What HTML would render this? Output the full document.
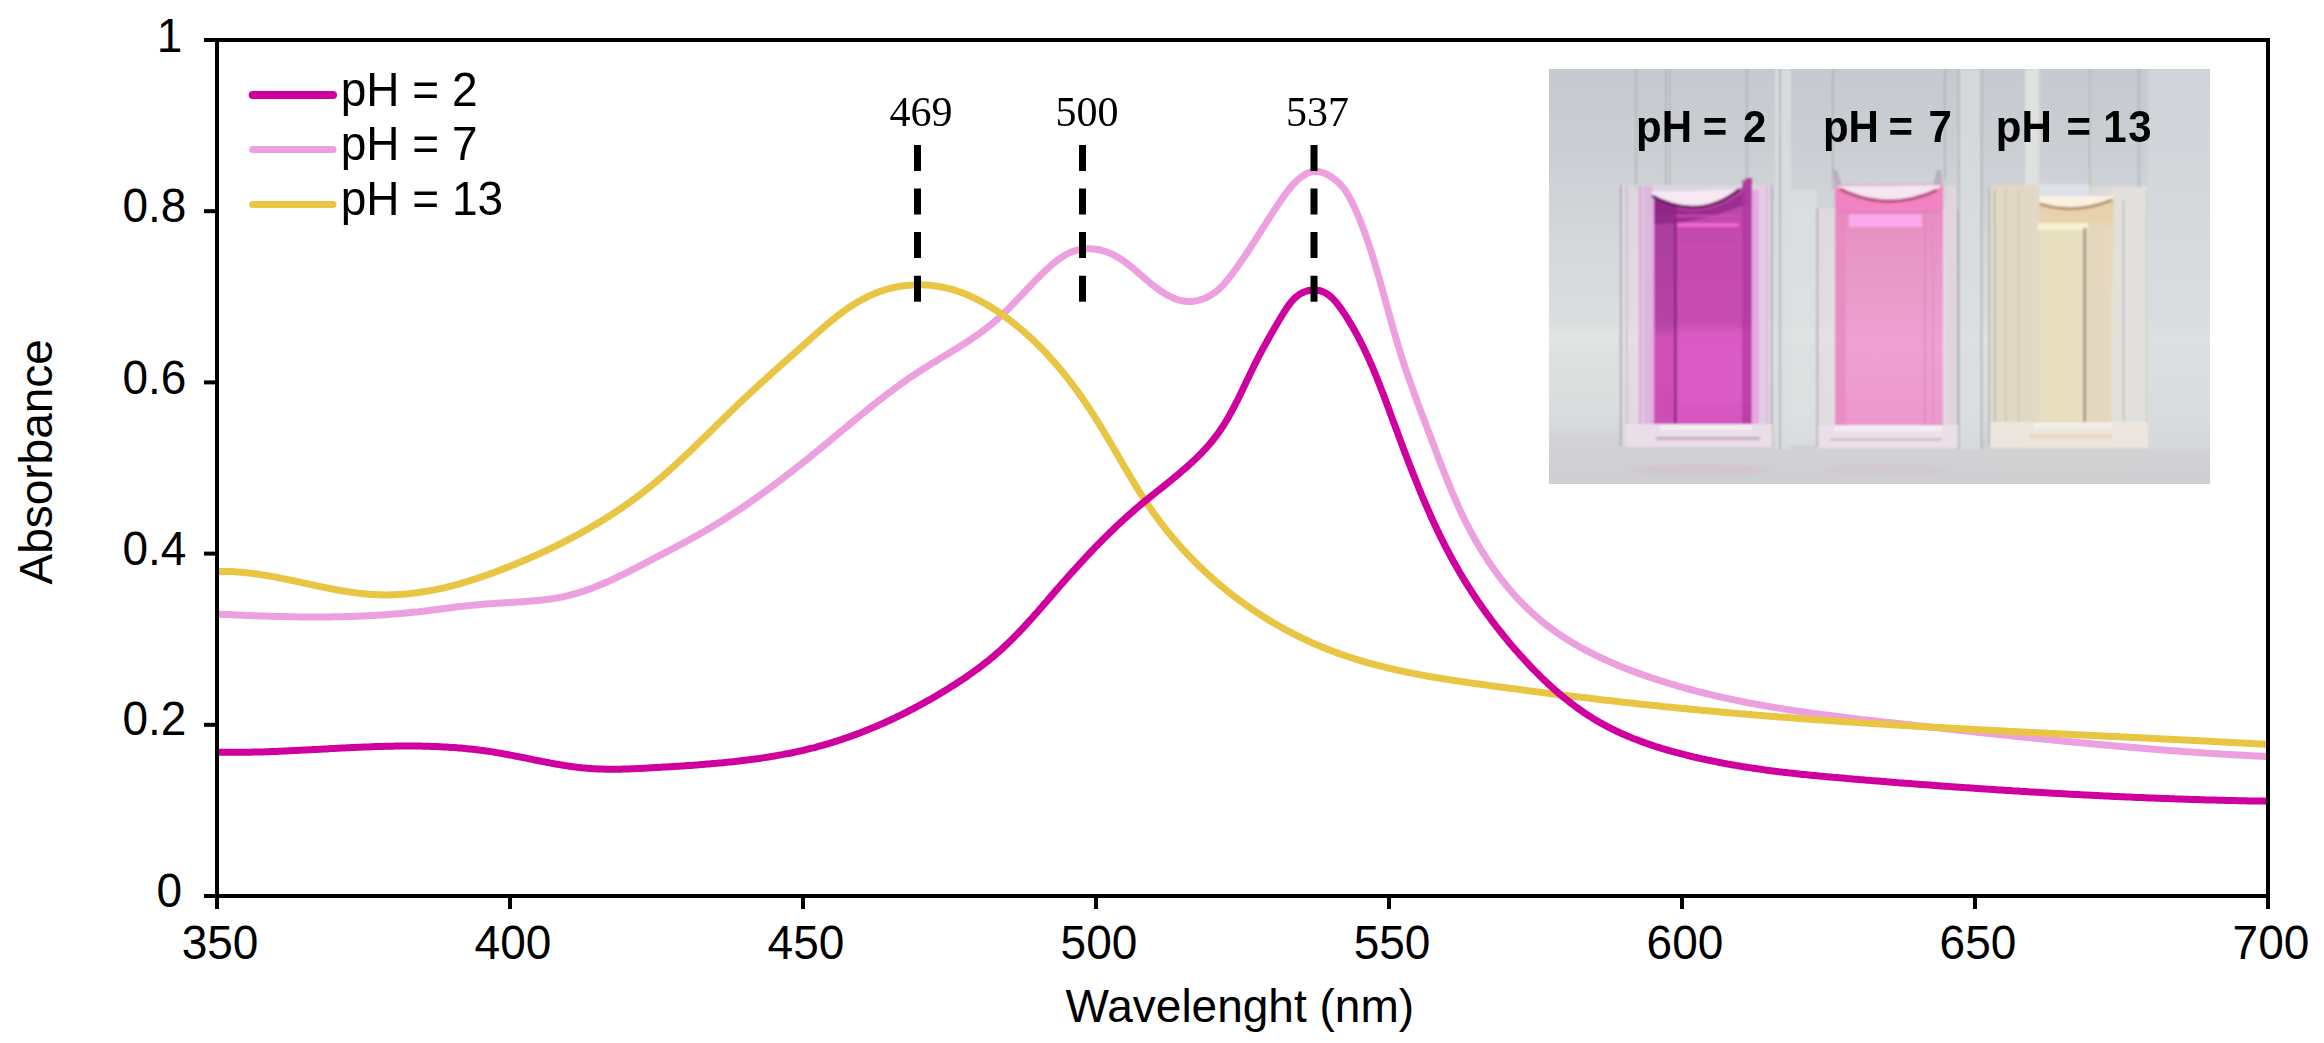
<!DOCTYPE html>
<html><head><meta charset="utf-8"><title>Absorbance spectra</title>
<style>html,body{margin:0;padding:0;background:#fff;}svg{display:block;}</style>
</head><body>
<svg width="2324" height="1043" viewBox="0 0 2324 1043">
<rect width="2324" height="1043" fill="#fff"/>
<g id="photo">
<defs>
<clipPath id="pclip"><rect x="1549" y="69" width="661" height="415"/></clipPath>
<filter id="soft" x="-2%" y="-2%" width="104%" height="104%"><feGaussianBlur stdDeviation="1.2"/></filter>
<linearGradient id="bg" x1="0" y1="69" x2="0" y2="484" gradientUnits="userSpaceOnUse">
<stop offset="0" stop-color="#C6CAD0"/>
<stop offset="0.2" stop-color="#CBCFD4"/>
<stop offset="0.44" stop-color="#D5D9DB"/>
<stop offset="0.61" stop-color="#DADEDF"/>
<stop offset="0.645" stop-color="#E1E5E4"/>
<stop offset="0.68" stop-color="#DDE1E0"/>
<stop offset="0.84" stop-color="#D9DCDC"/>
<stop offset="0.9" stop-color="#D2D2D5"/>
<stop offset="1" stop-color="#CFCED1"/>
</linearGradient>
<linearGradient id="liq1" x1="0" y1="200" x2="0" y2="424" gradientUnits="userSpaceOnUse">
<stop offset="0" stop-color="#B844A6"/>
<stop offset="0.12" stop-color="#C44AAE"/>
<stop offset="0.55" stop-color="#C84EB2"/>
<stop offset="0.6" stop-color="#DA5AC4"/>
<stop offset="0.85" stop-color="#DC5CC6"/>
<stop offset="1" stop-color="#D456BE"/>
</linearGradient>
<linearGradient id="liq1l" x1="0" y1="205" x2="0" y2="424" gradientUnits="userSpaceOnUse">
<stop offset="0" stop-color="#962C8E"/>
<stop offset="0.1" stop-color="#AC3E9E"/>
<stop offset="0.55" stop-color="#B844A8"/>
<stop offset="0.6" stop-color="#CE50B8"/>
<stop offset="1" stop-color="#CC4EB6"/>
</linearGradient>
<linearGradient id="liq2" x1="0" y1="200" x2="0" y2="425" gradientUnits="userSpaceOnUse">
<stop offset="0" stop-color="#E88AC2"/>
<stop offset="0.3" stop-color="#E898C6"/>
<stop offset="0.65" stop-color="#F0A0D2"/>
<stop offset="1" stop-color="#EC98CC"/>
</linearGradient>
<linearGradient id="liq3" x1="0" y1="205" x2="0" y2="422" gradientUnits="userSpaceOnUse">
<stop offset="0" stop-color="#E0CFAF"/>
<stop offset="0.12" stop-color="#E5D9BE"/>
<stop offset="0.7" stop-color="#E9E0C6"/>
<stop offset="1" stop-color="#E8DFC6"/>
</linearGradient>
</defs>
<g clip-path="url(#pclip)">
<rect x="1549" y="69" width="661" height="415" fill="url(#bg)"/>
<g filter="url(#soft)">
<!-- light columns between cuvettes -->
<rect x="1775" y="69" width="16" height="380" fill="#DADEDF" opacity="0.8"/>
<rect x="1791" y="190" width="26" height="255" fill="#DDE1E1" opacity="0.7"/>
<rect x="1959" y="69" width="22" height="380" fill="#DADEDF" opacity="0.7"/>
<rect x="2148" y="69" width="62" height="380" fill="#D9DDE0" opacity="0.55"/>
<rect x="2026" y="69" width="14" height="125" fill="#D8DADD" opacity="0.9"/>
<g fill="#A8ACB1" opacity="0.75">
<rect x="1635.5" y="69" width="1.6" height="120"/>
<rect x="1665" y="69" width="1.6" height="118"/>
<rect x="1669" y="69" width="1.2" height="118"/>
<rect x="1746" y="69" width="1.6" height="115"/>
<rect x="1779" y="69" width="2" height="380"/>
<rect x="1832" y="69" width="1.6" height="120"/>
<rect x="1944" y="69" width="1.6" height="112"/>
<rect x="1958" y="69" width="1.6" height="380"/>
<rect x="1980.5" y="69" width="2" height="380"/>
<rect x="2089" y="69" width="1.2" height="125"/>
<rect x="2138" y="69" width="1.6" height="135"/>
</g>

<!-- ===== cuvette 1 ===== -->
<rect x="1620" y="185" width="153" height="262" fill="#E8D8E8" opacity="0.55"/>
<rect x="1620" y="185" width="1.6" height="261" fill="#A8A4B0"/>
<rect x="1771" y="185" width="1.6" height="261" fill="#ACA6B2"/>
<rect x="1626" y="186" width="1.2" height="250" fill="#C0B4C2"/>
<rect x="1639" y="186" width="2.5" height="240" fill="#E49CD8"/>
<rect x="1643" y="186" width="10" height="240" fill="#DCB8DC"/>
<rect x="1652" y="200" width="9" height="224" fill="#E8A6E4"/>
<rect x="1752" y="190" width="7" height="234" fill="#E6A8E4"/>
<rect x="1759" y="186" width="11" height="240" fill="#E4CCE4"/>
<rect x="1766" y="186" width="1.2" height="250" fill="#C4B4C4"/>
<!-- liquid 1 -->
<path d="M1654,191 L1739,190 Q1744,186 1746,178 L1752,178 L1752,424 L1654,424 Z" fill="url(#liq1)"/>
<rect x="1655" y="200" width="21" height="224" fill="url(#liq1l)"/>
<rect x="1674" y="206" width="3" height="218" fill="#86207E" opacity="0.75"/>
<path d="M1654,199 Q1700,226 1746,190 L1746,204 Q1700,224 1654,224 Z" fill="#8E2686" opacity="0.75"/>
<rect x="1676" y="215" width="64" height="2" fill="#D84CB8" opacity="0.8"/>
<rect x="1677" y="223" width="62" height="4" fill="#F064D8"/>
<rect x="1742" y="180" width="9" height="244" fill="#AC389C" opacity="0.7"/>
<path d="M1652,191 L1740,189.5 L1739,188 Q1700,220 1652,195 Z" fill="#F6E8F4"/>
<path d="M1652,196 Q1700,222 1740,189" fill="none" stroke="#5E1050" stroke-width="3.5" opacity="0.75"/>
<!-- base 1 -->
<rect x="1626" y="424" width="146" height="23" fill="#EADEE8"/>
<rect x="1660" y="425" width="92" height="5" fill="#F4EEF4"/>
<rect x="1656" y="437" width="104" height="3" fill="#C8AEC4"/>
<ellipse cx="1700" cy="470" rx="70" ry="6" fill="#D2C2CE" opacity="0.7"/>

<!-- ===== cuvette 2 ===== -->
<rect x="1816" y="208" width="142" height="240" fill="#E6DCE2" opacity="0.6"/>
<rect x="1816.5" y="208" width="1.6" height="239" fill="#ACA8B0"/>
<rect x="1957" y="209" width="1.6" height="238" fill="#ACA8B0"/>
<rect x="1946" y="186" width="10" height="240" fill="#E2D4DC"/>
<path d="M1833,170 L1837,170 L1842,186 L1835,186 Z" fill="#A07890" opacity="0.4"/>
<path d="M1937,170 L1941,170 L1942,185 L1933,186 Z" fill="#A07890" opacity="0.4"/>
<!-- liquid 2 -->
<path d="M1835,185 L1943,184 L1943,425 L1835,425 Z" fill="url(#liq2)"/>
<rect x="1835" y="198" width="11" height="227" fill="#E888C2" opacity="0.8"/>
<path d="M1836,190 Q1888,214 1942,188 L1942,211 L1836,211 Z" fill="#F282C2"/>
<rect x="1840" y="211" width="98" height="1.6" fill="#E07CBC"/>
<rect x="1849" y="214.5" width="73" height="12.5" fill="#FAAAEC"/>
<rect x="1924" y="205" width="2" height="220" fill="#DC84BC" opacity="0.7"/>
<rect x="1932" y="205" width="2" height="220" fill="#E08ABE" opacity="0.6"/>
<path d="M1836,186 L1942,185 L1937,189 Q1888,212 1840,188 Z" fill="#F6E6F0"/>
<path d="M1840,189 Q1888,213 1937,190" fill="none" stroke="#B04878" stroke-width="3.5" opacity="0.85"/>
<!-- base 2 -->
<rect x="1818" y="425" width="140" height="23" fill="#EBDFE8"/>
<rect x="1834" y="426" width="108" height="5" fill="#F6EEF4"/>
<rect x="1830" y="438" width="112" height="3" fill="#D8C0D0"/>
<ellipse cx="1886" cy="470" rx="62" ry="6" fill="#D4C4D0" opacity="0.6"/>

<!-- ===== cuvette 3 ===== -->
<rect x="2025" y="69" width="13" height="116" fill="#E4E4E4" opacity="0.7"/>
<rect x="1988" y="186" width="160" height="262" fill="#E4E0D8" opacity="0.6"/>
<rect x="1988.5" y="186" width="1.6" height="260" fill="#B0AEAE"/>
<rect x="2145" y="190" width="1.6" height="256" fill="#B4B2B2"/>
<rect x="1992" y="185" width="47" height="237" fill="#E1D8C6"/>
<rect x="1994" y="190" width="1.4" height="232" fill="#BEB4A2"/>
<rect x="2005" y="190" width="1.4" height="232" fill="#CFC4AE"/>
<rect x="2018" y="190" width="1.4" height="232" fill="#CFC4AE"/>
<rect x="2111" y="188" width="35" height="234" fill="#E2E0DC"/>
<rect x="2123" y="200" width="1.3" height="230" fill="#B8B6B4"/>
<rect x="2039" y="184" width="50" height="12" fill="#DCE0E8"/>
<!-- liquid 3 -->
<path d="M2039,196 L2114,196 L2112,422 L2039,422 Z" fill="url(#liq3)"/>
<path d="M2040,204 Q2076,215 2112,200 L2112,222 L2040,222 Z" fill="#E8D2AE"/>
<rect x="2038" y="223" width="50" height="7" fill="#F6F2D0"/>
<rect x="2039" y="230" width="44.6" height="192" fill="#E8DEC0"/>
<rect x="2083.6" y="228" width="2.2" height="194" fill="#857565" opacity="0.85"/>
<rect x="2086" y="228" width="25" height="194" fill="#E6D8BE"/>
<path d="M2039,196 L2114,196 L2112,199 Q2076,214 2040,203 Z" fill="#FBF0E2"/>
<path d="M2040,204 Q2076,215 2112,200" fill="none" stroke="#A88860" stroke-width="3" opacity="0.8"/>
<!-- base 3 -->
<rect x="1990" y="422" width="158" height="26" fill="#ECE6DE"/>
<rect x="2034" y="423" width="78" height="5" fill="#F4F0E8"/>
<rect x="2030" y="434" width="82" height="5" fill="#E8D8C2"/>
<ellipse cx="2068" cy="468" rx="60" ry="6" fill="#D4D0CC" opacity="0.6"/>
</g>
</g>
<g font-family="Liberation Sans, Arial, sans-serif" font-weight="bold" font-size="42" fill="#000" transform="matrix(1,0,0,1.04,0,-5.68)">
<text y="142" x="1636">pH</text><text y="142" x="1702.7">=</text><text y="142" x="1743">2</text>
<text y="142" x="1822.9">pH</text><text y="142" x="1888.6">=</text><text y="142" x="1928.5">7</text>
<text y="142" x="1995.8">pH</text><text y="142" x="2066.6">=</text><text y="142" x="2103.2">1</text><text y="142" x="2128.2">3</text>
</g>
</g>

<g fill="none" stroke-linejoin="round" stroke-linecap="butt">
<path d="M217.0,614.1 L219.0,614.2 L221.0,614.3 L223.0,614.4 L225.0,614.5 L227.0,614.6 L229.0,614.6 L231.0,614.7 L233.0,614.8 L235.0,614.9 L237.0,615.0 L239.0,615.1 L241.0,615.2 L242.9,615.3 L244.9,615.3 L246.9,615.4 L248.9,615.5 L250.9,615.6 L252.9,615.7 L254.9,615.7 L256.9,615.8 L258.9,615.9 L260.9,615.9 L262.9,616.0 L264.9,616.1 L266.9,616.1 L268.9,616.2 L270.9,616.3 L272.9,616.3 L274.9,616.4 L276.9,616.4 L278.9,616.5 L280.9,616.5 L282.9,616.6 L285.0,616.6 L287.0,616.7 L289.0,616.7 L291.0,616.7 L293.0,616.8 L295.0,616.8 L297.0,616.8 L299.0,616.9 L301.0,616.9 L303.0,616.9 L305.0,616.9 L307.0,616.9 L309.0,617.0 L311.0,617.0 L313.0,617.0 L315.0,617.0 L317.0,617.0 L319.0,617.0 L321.0,617.0 L323.0,617.0 L325.0,616.9 L327.0,616.9 L329.0,616.9 L331.0,616.9 L333.0,616.8 L335.0,616.8 L337.0,616.8 L339.0,616.7 L341.0,616.7 L343.0,616.7 L345.0,616.6 L347.0,616.6 L349.0,616.5 L351.0,616.4 L353.0,616.4 L355.0,616.3 L357.0,616.2 L359.0,616.2 L361.0,616.1 L363.0,616.0 L365.0,615.9 L367.0,615.8 L369.0,615.7 L371.0,615.6 L373.0,615.5 L375.0,615.4 L377.0,615.3 L379.0,615.1 L381.0,615.0 L383.0,614.9 L385.0,614.7 L387.0,614.6 L388.9,614.5 L390.9,614.3 L392.9,614.1 L394.9,614.0 L396.9,613.8 L398.9,613.7 L400.9,613.5 L402.9,613.3 L404.8,613.1 L406.8,612.9 L408.8,612.7 L410.8,612.5 L412.8,612.3 L414.8,612.1 L416.7,611.9 L418.7,611.7 L420.7,611.4 L422.7,611.2 L424.7,611.0 L426.6,610.7 L428.6,610.5 L430.6,610.2 L432.6,610.0 L434.5,609.8 L436.5,609.5 L438.5,609.3 L440.5,609.0 L442.5,608.8 L444.4,608.5 L446.4,608.3 L448.4,608.0 L450.4,607.8 L452.4,607.5 L454.3,607.3 L456.3,607.1 L458.3,606.8 L460.3,606.6 L462.3,606.4 L464.3,606.1 L466.2,605.9 L468.2,605.7 L470.2,605.5 L472.2,605.3 L474.2,605.1 L476.2,604.9 L478.2,604.7 L480.2,604.5 L482.2,604.3 L484.2,604.2 L486.2,604.0 L488.2,603.8 L490.2,603.7 L492.2,603.6 L494.2,603.4 L496.2,603.3 L498.2,603.2 L500.2,603.0 L502.2,602.9 L504.3,602.8 L506.3,602.7 L508.3,602.6 L510.3,602.5 L512.3,602.4 L514.3,602.2 L516.3,602.1 L518.3,602.0 L520.3,601.9 L522.4,601.7 L524.4,601.6 L526.4,601.5 L528.4,601.3 L530.4,601.1 L532.4,601.0 L534.4,600.8 L536.4,600.6 L538.4,600.4 L540.3,600.2 L542.3,600.0 L544.3,599.8 L546.3,599.5 L548.3,599.3 L550.2,599.0 L552.2,598.7 L554.2,598.4 L556.1,598.1 L558.1,597.7 L560.0,597.3 L562.0,597.0 L563.9,596.6 L565.8,596.1 L567.8,595.7 L569.7,595.2 L571.6,594.7 L573.5,594.2 L575.4,593.7 L577.3,593.1 L579.2,592.5 L581.1,591.9 L583.0,591.3 L584.9,590.7 L586.8,590.0 L588.7,589.4 L590.5,588.7 L592.4,588.0 L594.3,587.3 L596.1,586.6 L598.0,585.8 L599.8,585.0 L601.7,584.3 L603.5,583.5 L605.3,582.7 L607.2,581.9 L609.0,581.1 L610.8,580.2 L612.7,579.4 L614.5,578.5 L616.3,577.7 L618.1,576.8 L619.9,575.9 L621.7,575.0 L623.6,574.2 L625.4,573.3 L627.2,572.4 L629.0,571.4 L630.8,570.5 L632.6,569.6 L634.4,568.7 L636.2,567.8 L638.0,566.8 L639.7,565.9 L641.5,565.0 L643.3,564.1 L645.1,563.1 L646.9,562.2 L648.7,561.3 L650.5,560.3 L652.3,559.4 L654.0,558.5 L655.8,557.5 L657.6,556.6 L659.4,555.7 L661.2,554.8 L662.9,553.8 L664.7,552.9 L666.5,552.0 L668.3,551.0 L670.0,550.1 L671.8,549.2 L673.6,548.2 L675.3,547.3 L677.1,546.4 L678.9,545.4 L680.6,544.5 L682.4,543.5 L684.1,542.6 L685.9,541.6 L687.7,540.7 L689.4,539.7 L691.1,538.8 L692.9,537.8 L694.6,536.8 L696.4,535.9 L698.1,534.9 L699.8,533.9 L701.6,532.9 L703.3,531.9 L705.0,530.9 L706.7,529.9 L708.5,528.9 L710.2,527.9 L711.9,526.9 L713.6,525.8 L715.3,524.8 L717.0,523.8 L718.7,522.7 L720.4,521.7 L722.1,520.6 L723.8,519.6 L725.5,518.5 L727.1,517.4 L728.8,516.4 L730.5,515.3 L732.2,514.2 L733.8,513.1 L735.5,512.0 L737.2,510.9 L738.8,509.8 L740.5,508.7 L742.2,507.6 L743.8,506.5 L745.5,505.3 L747.1,504.2 L748.8,503.1 L750.4,502.0 L752.0,500.8 L753.7,499.7 L755.3,498.5 L756.9,497.4 L758.6,496.2 L760.2,495.0 L761.8,493.9 L763.4,492.7 L765.1,491.5 L766.7,490.4 L768.3,489.2 L769.9,488.0 L771.5,486.8 L773.1,485.6 L774.7,484.4 L776.3,483.2 L777.9,482.0 L779.5,480.8 L781.1,479.6 L782.7,478.4 L784.3,477.2 L785.9,475.9 L787.5,474.7 L789.1,473.5 L790.7,472.3 L792.2,471.0 L793.8,469.8 L795.4,468.6 L797.0,467.3 L798.6,466.1 L800.1,464.9 L801.7,463.6 L803.3,462.4 L804.8,461.1 L806.4,459.9 L808.0,458.6 L809.5,457.4 L811.1,456.1 L812.6,454.8 L814.2,453.6 L815.7,452.3 L817.3,451.1 L818.8,449.8 L820.4,448.5 L821.9,447.2 L823.5,446.0 L825.0,444.7 L826.6,443.4 L828.1,442.2 L829.7,440.9 L831.2,439.6 L832.7,438.3 L834.3,437.0 L835.8,435.8 L837.4,434.5 L838.9,433.2 L840.4,431.9 L842.0,430.7 L843.5,429.4 L845.0,428.1 L846.6,426.8 L848.1,425.5 L849.6,424.3 L851.2,423.0 L852.7,421.7 L854.3,420.4 L855.8,419.2 L857.3,417.9 L858.9,416.6 L860.4,415.4 L862.0,414.1 L863.5,412.9 L865.1,411.6 L866.6,410.3 L868.2,409.1 L869.7,407.8 L871.3,406.6 L872.8,405.3 L874.4,404.1 L876.0,402.9 L877.5,401.6 L879.1,400.4 L880.7,399.2 L882.2,398.0 L883.8,396.7 L885.4,395.5 L887.0,394.3 L888.6,393.1 L890.2,391.9 L891.8,390.7 L893.4,389.5 L895.0,388.3 L896.6,387.2 L898.2,386.0 L899.8,384.8 L901.4,383.7 L903.0,382.5 L904.7,381.4 L906.3,380.2 L907.9,379.1 L909.6,377.9 L911.2,376.8 L912.9,375.7 L914.6,374.6 L916.2,373.5 L917.9,372.4 L919.6,371.3 L921.3,370.2 L922.9,369.1 L924.6,368.1 L926.3,367.0 L928.0,366.0 L929.7,364.9 L931.4,363.8 L933.1,362.8 L934.9,361.8 L936.6,360.7 L938.3,359.7 L940.0,358.6 L941.7,357.6 L943.4,356.6 L945.1,355.5 L946.9,354.5 L948.6,353.4 L950.3,352.4 L952.0,351.3 L953.7,350.3 L955.4,349.2 L957.1,348.2 L958.8,347.1 L960.5,346.1 L962.2,345.0 L963.9,343.9 L965.6,342.8 L967.2,341.8 L968.9,340.7 L970.6,339.6 L972.2,338.4 L973.9,337.3 L975.5,336.2 L977.1,335.0 L978.8,333.9 L980.4,332.7 L982.0,331.6 L983.6,330.4 L985.2,329.2 L986.7,328.0 L988.3,326.7 L989.9,325.5 L991.4,324.3 L992.9,323.0 L994.5,321.7 L996.0,320.4 L997.5,319.1 L998.9,317.8 L1000.4,316.4 L1001.9,315.1 L1003.3,313.7 L1004.8,312.3 L1006.2,310.9 L1007.6,309.5 L1009.0,308.1 L1010.4,306.7 L1011.8,305.2 L1013.2,303.8 L1014.6,302.4 L1016.0,300.9 L1017.4,299.4 L1018.8,298.0 L1020.2,296.5 L1021.6,295.1 L1023.0,293.6 L1024.3,292.1 L1025.7,290.6 L1027.1,289.2 L1028.5,287.7 L1029.9,286.2 L1031.3,284.8 L1032.7,283.3 L1034.1,281.8 L1035.5,280.4 L1036.9,278.9 L1038.4,277.5 L1039.8,276.1 L1041.2,274.6 L1042.7,273.2 L1044.1,271.8 L1045.6,270.4 L1047.1,269.0 L1048.6,267.6 L1050.1,266.3 L1051.6,264.9 L1053.2,263.6 L1054.7,262.3 L1056.3,261.1 L1057.9,259.9 L1059.5,258.7 L1061.2,257.6 L1062.8,256.5 L1064.5,255.5 L1066.3,254.5 L1068.0,253.6 L1069.8,252.8 L1071.6,252.0 L1073.4,251.3 L1075.3,250.7 L1077.2,250.2 L1079.1,249.7 L1081.1,249.3 L1083.1,249.1 L1085.1,248.9 L1087.2,248.8 L1089.2,248.7 L1091.3,248.8 L1093.4,248.9 L1095.4,249.2 L1097.4,249.5 L1099.4,249.8 L1101.3,250.3 L1103.2,250.8 L1105.1,251.3 L1106.9,252.0 L1108.7,252.7 L1110.5,253.4 L1112.2,254.2 L1114.0,255.1 L1115.6,256.0 L1117.3,257.0 L1119.0,258.0 L1120.6,259.0 L1122.2,260.1 L1123.8,261.2 L1125.4,262.3 L1127.0,263.5 L1128.6,264.7 L1130.1,266.0 L1131.7,267.2 L1133.2,268.5 L1134.8,269.8 L1136.3,271.1 L1137.9,272.5 L1139.4,273.8 L1141.0,275.2 L1142.5,276.5 L1144.1,277.9 L1145.7,279.2 L1147.3,280.6 L1148.9,281.9 L1150.5,283.3 L1152.2,284.6 L1153.8,285.9 L1155.5,287.2 L1157.1,288.4 L1158.8,289.6 L1160.5,290.8 L1162.2,292.0 L1164.0,293.1 L1165.7,294.1 L1167.5,295.1 L1169.2,296.1 L1171.0,296.9 L1172.8,297.7 L1174.6,298.5 L1176.4,299.2 L1178.2,299.8 L1180.1,300.3 L1181.9,300.7 L1183.8,301.0 L1185.7,301.3 L1187.6,301.4 L1189.5,301.4 L1191.4,301.4 L1193.3,301.2 L1195.2,300.9 L1197.2,300.6 L1199.1,300.1 L1201.0,299.5 L1202.9,298.9 L1204.7,298.2 L1206.6,297.4 L1208.4,296.5 L1210.1,295.5 L1211.9,294.5 L1213.6,293.4 L1215.2,292.2 L1216.8,291.0 L1218.3,289.7 L1219.8,288.3 L1221.3,286.9 L1222.7,285.4 L1224.0,284.0 L1225.4,282.4 L1226.7,280.9 L1228.0,279.3 L1229.2,277.7 L1230.5,276.1 L1231.7,274.5 L1232.9,272.8 L1234.1,271.2 L1235.3,269.6 L1236.5,267.9 L1237.7,266.3 L1238.9,264.6 L1240.0,263.0 L1241.2,261.3 L1242.3,259.7 L1243.4,258.0 L1244.5,256.4 L1245.7,254.7 L1246.8,253.1 L1247.9,251.4 L1249.0,249.7 L1250.1,248.1 L1251.1,246.4 L1252.2,244.7 L1253.3,243.0 L1254.4,241.4 L1255.5,239.7 L1256.5,238.0 L1257.6,236.3 L1258.7,234.7 L1259.7,233.0 L1260.8,231.3 L1261.9,229.6 L1262.9,228.0 L1264.0,226.3 L1265.1,224.6 L1266.1,222.9 L1267.2,221.3 L1268.3,219.6 L1269.4,217.9 L1270.4,216.2 L1271.5,214.6 L1272.6,212.9 L1273.7,211.2 L1274.8,209.6 L1275.9,207.9 L1277.0,206.2 L1278.2,204.6 L1279.3,202.9 L1280.4,201.2 L1281.6,199.6 L1282.7,197.9 L1283.9,196.3 L1285.1,194.6 L1286.2,193.0 L1287.4,191.4 L1288.7,189.8 L1289.9,188.2 L1291.2,186.6 L1292.5,185.1 L1293.9,183.6 L1295.3,182.1 L1296.8,180.7 L1298.3,179.4 L1299.9,178.1 L1301.5,176.8 L1303.2,175.7 L1304.9,174.6 L1306.7,173.6 L1308.5,172.8 L1310.4,172.1 L1312.3,171.6 L1314.2,171.4 L1316.1,171.3 L1318.0,171.5 L1319.9,171.8 L1321.9,172.3 L1323.7,173.0 L1325.6,173.8 L1327.4,174.6 L1329.2,175.6 L1330.9,176.7 L1332.6,177.8 L1334.3,179.0 L1335.9,180.3 L1337.4,181.6 L1338.9,183.0 L1340.3,184.5 L1341.7,186.0 L1343.0,187.5 L1344.3,189.1 L1345.4,190.7 L1346.5,192.4 L1347.6,194.1 L1348.6,195.8 L1349.6,197.5 L1350.5,199.3 L1351.4,201.0 L1352.3,202.8 L1353.1,204.6 L1354.0,206.4 L1354.8,208.2 L1355.6,210.0 L1356.4,211.8 L1357.2,213.6 L1358.0,215.5 L1358.8,217.3 L1359.5,219.1 L1360.3,221.0 L1361.0,222.8 L1361.7,224.7 L1362.5,226.6 L1363.2,228.4 L1363.9,230.3 L1364.6,232.2 L1365.2,234.1 L1365.9,235.9 L1366.6,237.8 L1367.2,239.7 L1367.9,241.6 L1368.5,243.5 L1369.1,245.4 L1369.8,247.3 L1370.4,249.2 L1371.0,251.1 L1371.6,253.0 L1372.2,254.9 L1372.8,256.9 L1373.4,258.8 L1374.0,260.7 L1374.6,262.6 L1375.1,264.5 L1375.7,266.5 L1376.3,268.4 L1376.8,270.3 L1377.4,272.2 L1378.0,274.2 L1378.5,276.1 L1379.1,278.0 L1379.6,279.9 L1380.2,281.9 L1380.7,283.8 L1381.2,285.7 L1381.8,287.7 L1382.3,289.6 L1382.9,291.5 L1383.4,293.4 L1383.9,295.4 L1384.5,297.3 L1385.0,299.2 L1385.5,301.2 L1386.1,303.1 L1386.6,305.0 L1387.1,306.9 L1387.7,308.9 L1388.2,310.8 L1388.7,312.7 L1389.3,314.7 L1389.8,316.6 L1390.3,318.5 L1390.9,320.4 L1391.4,322.4 L1391.9,324.3 L1392.5,326.2 L1393.0,328.1 L1393.6,330.1 L1394.1,332.0 L1394.7,333.9 L1395.2,335.8 L1395.8,337.7 L1396.4,339.6 L1396.9,341.6 L1397.5,343.5 L1398.1,345.4 L1398.7,347.3 L1399.3,349.2 L1399.8,351.1 L1400.4,353.0 L1401.0,354.9 L1401.6,356.8 L1402.2,358.8 L1402.9,360.7 L1403.5,362.6 L1404.1,364.5 L1404.7,366.4 L1405.4,368.3 L1406.0,370.1 L1406.7,372.0 L1407.3,373.9 L1408.0,375.8 L1408.6,377.7 L1409.3,379.6 L1409.9,381.5 L1410.6,383.4 L1411.3,385.3 L1412.0,387.2 L1412.6,389.0 L1413.3,390.9 L1414.0,392.8 L1414.7,394.7 L1415.4,396.6 L1416.1,398.4 L1416.7,400.3 L1417.4,402.2 L1418.1,404.1 L1418.8,406.0 L1419.5,407.8 L1420.2,409.7 L1420.9,411.6 L1421.6,413.5 L1422.4,415.3 L1423.1,417.2 L1423.8,419.1 L1424.5,421.0 L1425.2,422.8 L1425.9,424.7 L1426.6,426.6 L1427.3,428.4 L1428.0,430.3 L1428.7,432.2 L1429.4,434.1 L1430.2,435.9 L1430.9,437.8 L1431.6,439.7 L1432.3,441.5 L1433.0,443.4 L1433.7,445.3 L1434.4,447.1 L1435.1,449.0 L1435.8,450.9 L1436.5,452.8 L1437.2,454.6 L1437.9,456.5 L1438.7,458.4 L1439.4,460.2 L1440.1,462.1 L1440.8,463.9 L1441.5,465.8 L1442.2,467.7 L1443.0,469.5 L1443.7,471.4 L1444.4,473.2 L1445.1,475.1 L1445.9,477.0 L1446.6,478.8 L1447.4,480.7 L1448.1,482.5 L1448.9,484.3 L1449.6,486.2 L1450.4,488.0 L1451.1,489.9 L1451.9,491.7 L1452.7,493.6 L1453.5,495.4 L1454.3,497.2 L1455.1,499.0 L1455.9,500.9 L1456.7,502.7 L1457.5,504.5 L1458.3,506.3 L1459.1,508.2 L1460.0,510.0 L1460.8,511.8 L1461.6,513.6 L1462.5,515.4 L1463.4,517.2 L1464.2,519.0 L1465.1,520.8 L1466.0,522.6 L1466.9,524.4 L1467.8,526.1 L1468.8,527.9 L1469.7,529.7 L1470.6,531.5 L1471.6,533.2 L1472.5,535.0 L1473.5,536.7 L1474.5,538.5 L1475.5,540.2 L1476.5,542.0 L1477.5,543.7 L1478.5,545.5 L1479.5,547.2 L1480.6,548.9 L1481.6,550.6 L1482.7,552.3 L1483.7,554.0 L1484.8,555.7 L1485.9,557.4 L1487.0,559.1 L1488.1,560.8 L1489.2,562.5 L1490.3,564.1 L1491.5,565.8 L1492.6,567.4 L1493.8,569.1 L1495.0,570.7 L1496.1,572.3 L1497.3,574.0 L1498.5,575.6 L1499.7,577.2 L1500.9,578.8 L1502.2,580.3 L1503.4,581.9 L1504.7,583.5 L1505.9,585.0 L1507.2,586.6 L1508.5,588.1 L1509.8,589.7 L1511.1,591.2 L1512.4,592.7 L1513.7,594.2 L1515.0,595.7 L1516.4,597.1 L1517.7,598.6 L1519.1,600.1 L1520.5,601.5 L1521.9,602.9 L1523.3,604.4 L1524.7,605.8 L1526.1,607.2 L1527.5,608.6 L1528.9,609.9 L1530.4,611.3 L1531.8,612.6 L1533.3,614.0 L1534.8,615.3 L1536.3,616.6 L1537.8,617.9 L1539.3,619.2 L1540.8,620.5 L1542.4,621.7 L1543.9,623.0 L1545.5,624.2 L1547.0,625.4 L1548.6,626.6 L1550.2,627.8 L1551.8,629.0 L1553.4,630.2 L1555.0,631.3 L1556.6,632.5 L1558.2,633.6 L1559.9,634.7 L1561.5,635.8 L1563.2,636.9 L1564.9,638.0 L1566.5,639.1 L1568.2,640.1 L1569.9,641.2 L1571.6,642.2 L1573.3,643.2 L1575.0,644.2 L1576.8,645.2 L1578.5,646.2 L1580.2,647.2 L1582.0,648.2 L1583.7,649.1 L1585.5,650.1 L1587.3,651.0 L1589.0,651.9 L1590.8,652.8 L1592.6,653.7 L1594.4,654.6 L1596.2,655.5 L1598.0,656.4 L1599.8,657.3 L1601.6,658.1 L1603.4,659.0 L1605.3,659.8 L1607.1,660.6 L1608.9,661.4 L1610.8,662.2 L1612.6,663.0 L1614.5,663.8 L1616.3,664.6 L1618.2,665.4 L1620.0,666.2 L1621.9,666.9 L1623.8,667.7 L1625.6,668.4 L1627.5,669.1 L1629.4,669.9 L1631.3,670.6 L1633.1,671.3 L1635.0,672.0 L1636.9,672.7 L1638.8,673.4 L1640.7,674.1 L1642.6,674.7 L1644.5,675.4 L1646.4,676.1 L1648.3,676.7 L1650.2,677.4 L1652.1,678.0 L1654.0,678.6 L1655.9,679.3 L1657.8,679.9 L1659.7,680.5 L1661.7,681.1 L1663.6,681.7 L1665.5,682.3 L1667.4,682.9 L1669.3,683.5 L1671.2,684.1 L1673.2,684.6 L1675.1,685.2 L1677.0,685.8 L1678.9,686.3 L1680.8,686.9 L1682.8,687.4 L1684.7,687.9 L1686.6,688.5 L1688.5,689.0 L1690.5,689.5 L1692.4,690.0 L1694.3,690.5 L1696.3,691.1 L1698.2,691.6 L1700.1,692.0 L1702.1,692.5 L1704.0,693.0 L1706.0,693.5 L1707.9,694.0 L1709.8,694.4 L1711.8,694.9 L1713.7,695.4 L1715.7,695.8 L1717.6,696.3 L1719.6,696.7 L1721.5,697.2 L1723.5,697.6 L1725.4,698.0 L1727.4,698.4 L1729.3,698.9 L1731.3,699.3 L1733.2,699.7 L1735.2,700.1 L1737.1,700.5 L1739.1,700.9 L1741.0,701.3 L1743.0,701.7 L1745.0,702.1 L1746.9,702.5 L1748.9,702.9 L1750.8,703.2 L1752.8,703.6 L1754.8,704.0 L1756.7,704.3 L1758.7,704.7 L1760.6,705.0 L1762.6,705.4 L1764.6,705.8 L1766.5,706.1 L1768.5,706.4 L1770.5,706.8 L1772.5,707.1 L1774.4,707.4 L1776.4,707.8 L1778.4,708.1 L1780.3,708.4 L1782.3,708.7 L1784.3,709.1 L1786.3,709.4 L1788.2,709.7 L1790.2,710.0 L1792.2,710.3 L1794.2,710.6 L1796.1,710.9 L1798.1,711.2 L1800.1,711.5 L1802.1,711.8 L1804.0,712.1 L1806.0,712.3 L1808.0,712.6 L1810.0,712.9 L1812.0,713.2 L1813.9,713.5 L1815.9,713.7 L1817.9,714.0 L1819.9,714.3 L1821.9,714.5 L1823.9,714.8 L1825.8,715.1 L1827.8,715.3 L1829.8,715.6 L1831.8,715.8 L1833.8,716.1 L1835.8,716.3 L1837.8,716.6 L1839.7,716.8 L1841.7,717.1 L1843.7,717.3 L1845.7,717.6 L1847.7,717.8 L1849.7,718.0 L1851.7,718.3 L1853.7,718.5 L1855.6,718.8 L1857.6,719.0 L1859.6,719.2 L1861.6,719.5 L1863.6,719.7 L1865.6,719.9 L1867.6,720.1 L1869.6,720.4 L1871.6,720.6 L1873.6,720.8 L1875.5,721.0 L1877.5,721.3 L1879.5,721.5 L1881.5,721.7 L1883.5,721.9 L1885.5,722.2 L1887.5,722.4 L1889.5,722.6 L1891.5,722.8 L1893.5,723.0 L1895.5,723.3 L1897.4,723.5 L1899.4,723.7 L1901.4,723.9 L1903.4,724.1 L1905.4,724.4 L1907.4,724.6 L1909.4,724.8 L1911.4,725.0 L1913.4,725.2 L1915.4,725.4 L1917.4,725.7 L1919.3,725.9 L1921.3,726.1 L1923.3,726.3 L1925.3,726.5 L1927.3,726.7 L1929.3,727.0 L1931.3,727.2 L1933.3,727.4 L1935.3,727.6 L1937.3,727.8 L1939.3,728.1 L1941.2,728.3 L1943.2,728.5 L1945.2,728.7 L1947.2,728.9 L1949.2,729.1 L1951.2,729.4 L1953.2,729.6 L1955.2,729.8 L1957.2,730.0 L1959.1,730.2 L1961.1,730.4 L1963.1,730.6 L1965.1,730.9 L1967.1,731.1 L1969.1,731.3 L1971.1,731.5 L1973.1,731.7 L1975.1,731.9 L1977.1,732.2 L1979.0,732.4 L1981.0,732.6 L1983.0,732.8 L1985.0,733.0 L1987.0,733.2 L1989.0,733.4 L1991.0,733.6 L1993.0,733.9 L1995.0,734.1 L1996.9,734.3 L1998.9,734.5 L2000.9,734.7 L2002.9,734.9 L2004.9,735.1 L2006.9,735.3 L2008.9,735.5 L2010.9,735.7 L2012.9,736.0 L2014.8,736.2 L2016.8,736.4 L2018.8,736.6 L2020.8,736.8 L2022.8,737.0 L2024.8,737.2 L2026.8,737.4 L2028.8,737.6 L2030.8,737.8 L2032.7,738.0 L2034.7,738.2 L2036.7,738.4 L2038.7,738.6 L2040.7,738.8 L2042.7,739.0 L2044.7,739.2 L2046.7,739.4 L2048.7,739.6 L2050.6,739.8 L2052.6,740.0 L2054.6,740.2 L2056.6,740.4 L2058.6,740.6 L2060.6,740.8 L2062.6,741.0 L2064.6,741.2 L2066.6,741.4 L2068.6,741.6 L2070.5,741.8 L2072.5,742.0 L2074.5,742.2 L2076.5,742.4 L2078.5,742.6 L2080.5,742.8 L2082.5,742.9 L2084.5,743.1 L2086.5,743.3 L2088.5,743.5 L2090.4,743.7 L2092.4,743.9 L2094.4,744.1 L2096.4,744.3 L2098.4,744.4 L2100.4,744.6 L2102.4,744.8 L2104.4,745.0 L2106.4,745.2 L2108.4,745.3 L2110.4,745.5 L2112.3,745.7 L2114.3,745.9 L2116.3,746.1 L2118.3,746.2 L2120.3,746.4 L2122.3,746.6 L2124.3,746.8 L2126.3,746.9 L2128.3,747.1 L2130.3,747.3 L2132.3,747.5 L2134.3,747.6 L2136.2,747.8 L2138.2,748.0 L2140.2,748.1 L2142.2,748.3 L2144.2,748.5 L2146.2,748.6 L2148.2,748.8 L2150.2,748.9 L2152.2,749.1 L2154.2,749.3 L2156.2,749.4 L2158.2,749.6 L2160.2,749.7 L2162.2,749.9 L2164.2,750.1 L2166.1,750.2 L2168.1,750.4 L2170.1,750.5 L2172.1,750.7 L2174.1,750.8 L2176.1,751.0 L2178.1,751.1 L2180.1,751.3 L2182.1,751.4 L2184.1,751.5 L2186.1,751.7 L2188.1,751.8 L2190.1,752.0 L2192.1,752.1 L2194.1,752.3 L2196.1,752.4 L2198.1,752.5 L2200.1,752.7 L2202.1,752.8 L2204.1,752.9 L2206.1,753.1 L2208.1,753.2 L2210.1,753.3 L2212.1,753.5 L2214.0,753.6 L2216.0,753.7 L2218.0,753.8 L2220.0,754.0 L2222.0,754.1 L2224.0,754.2 L2226.0,754.3 L2228.0,754.4 L2230.0,754.6 L2232.0,754.7 L2234.0,754.8 L2236.0,754.9 L2238.0,755.0 L2240.0,755.1 L2242.0,755.2 L2244.0,755.3 L2246.0,755.5 L2248.0,755.6 L2250.0,755.7 L2252.0,755.8 L2254.0,755.9 L2256.0,756.0 L2258.0,756.1 L2260.0,756.2 L2262.0,756.3 L2264.1,756.4 L2266.1,756.4 L2268.1,756.5" stroke="#ECA0DF" stroke-width="7"/>
<path d="M217.2,571.5 L219.1,571.4 L221.1,571.4 L223.1,571.4 L225.1,571.4 L227.0,571.4 L229.0,571.5 L231.0,571.6 L233.0,571.6 L234.9,571.8 L236.9,571.9 L238.9,572.0 L240.9,572.2 L242.8,572.3 L244.8,572.5 L246.8,572.7 L248.8,573.0 L250.8,573.2 L252.7,573.4 L254.7,573.7 L256.7,574.0 L258.7,574.3 L260.6,574.6 L262.6,574.9 L264.6,575.2 L266.6,575.5 L268.5,575.9 L270.5,576.2 L272.5,576.6 L274.5,576.9 L276.4,577.3 L278.4,577.7 L280.4,578.1 L282.4,578.5 L284.3,578.9 L286.3,579.3 L288.3,579.7 L290.3,580.1 L292.2,580.5 L294.2,580.9 L296.2,581.4 L298.2,581.8 L300.1,582.2 L302.1,582.7 L304.1,583.1 L306.1,583.5 L308.0,583.9 L310.0,584.4 L312.0,584.8 L314.0,585.2 L315.9,585.6 L317.9,586.1 L319.9,586.5 L321.9,586.9 L323.8,587.3 L325.8,587.7 L327.8,588.1 L329.8,588.5 L331.7,588.9 L333.7,589.2 L335.7,589.6 L337.7,590.0 L339.6,590.3 L341.6,590.7 L343.6,591.0 L345.6,591.3 L347.5,591.6 L349.5,591.9 L351.5,592.2 L353.5,592.5 L355.4,592.8 L357.4,593.0 L359.4,593.3 L361.3,593.5 L363.3,593.7 L365.3,593.9 L367.3,594.1 L369.2,594.2 L371.2,594.4 L373.2,594.5 L375.2,594.6 L377.1,594.7 L379.1,594.8 L381.1,594.8 L383.0,594.9 L385.0,594.9 L387.0,594.9 L389.0,594.9 L390.9,594.8 L392.9,594.8 L394.9,594.7 L396.8,594.6 L398.8,594.5 L400.8,594.4 L402.7,594.2 L404.7,594.1 L406.7,593.9 L408.7,593.7 L410.6,593.5 L412.6,593.3 L414.5,593.0 L416.5,592.8 L418.5,592.5 L420.4,592.2 L422.4,591.9 L424.4,591.6 L426.3,591.3 L428.3,591.0 L430.2,590.6 L432.2,590.2 L434.1,589.9 L436.1,589.5 L438.0,589.1 L440.0,588.6 L442.0,588.2 L443.9,587.8 L445.8,587.3 L447.8,586.8 L449.7,586.3 L451.7,585.9 L453.6,585.3 L455.6,584.8 L457.5,584.3 L459.4,583.8 L461.4,583.2 L463.3,582.7 L465.2,582.1 L467.2,581.5 L469.1,580.9 L471.0,580.3 L472.9,579.7 L474.9,579.1 L476.8,578.5 L478.7,577.8 L480.6,577.2 L482.5,576.5 L484.4,575.9 L486.3,575.2 L488.3,574.5 L490.2,573.9 L492.1,573.2 L494.0,572.5 L495.9,571.8 L497.7,571.1 L499.6,570.3 L501.5,569.6 L503.4,568.9 L505.3,568.1 L507.2,567.4 L509.1,566.7 L510.9,565.9 L512.8,565.1 L514.7,564.4 L516.6,563.6 L518.4,562.8 L520.3,562.1 L522.1,561.3 L524.0,560.5 L525.8,559.7 L527.7,558.9 L529.5,558.1 L531.4,557.3 L533.2,556.5 L535.1,555.7 L536.9,554.9 L538.7,554.0 L540.6,553.2 L542.4,552.4 L544.2,551.5 L546.0,550.7 L547.8,549.8 L549.7,549.0 L551.5,548.1 L553.3,547.2 L555.1,546.4 L556.9,545.5 L558.7,544.6 L560.4,543.7 L562.2,542.8 L564.0,541.9 L565.8,541.0 L567.6,540.1 L569.3,539.1 L571.1,538.2 L572.9,537.3 L574.6,536.3 L576.4,535.4 L578.1,534.5 L579.9,533.5 L581.6,532.5 L583.4,531.6 L585.1,530.6 L586.8,529.6 L588.6,528.6 L590.3,527.6 L592.0,526.6 L593.7,525.6 L595.4,524.6 L597.2,523.6 L598.9,522.6 L600.6,521.5 L602.3,520.5 L603.9,519.4 L605.6,518.4 L607.3,517.3 L609.0,516.3 L610.7,515.2 L612.3,514.1 L614.0,513.0 L615.6,511.9 L617.3,510.8 L618.9,509.7 L620.6,508.6 L622.2,507.5 L623.9,506.4 L625.5,505.2 L627.1,504.1 L628.7,502.9 L630.4,501.8 L632.0,500.6 L633.6,499.4 L635.2,498.3 L636.8,497.1 L638.4,495.9 L639.9,494.7 L641.5,493.5 L643.1,492.3 L644.7,491.0 L646.2,489.8 L647.8,488.6 L649.4,487.3 L650.9,486.1 L652.4,484.8 L654.0,483.5 L655.5,482.3 L657.1,481.0 L658.6,479.7 L660.1,478.4 L661.6,477.1 L663.1,475.8 L664.6,474.5 L666.1,473.2 L667.6,471.8 L669.1,470.5 L670.6,469.2 L672.1,467.8 L673.6,466.5 L675.1,465.2 L676.6,463.8 L678.0,462.4 L679.5,461.1 L681.0,459.7 L682.5,458.4 L683.9,457.0 L685.4,455.6 L686.8,454.2 L688.3,452.8 L689.8,451.5 L691.2,450.1 L692.7,448.7 L694.1,447.3 L695.6,445.9 L697.0,444.5 L698.4,443.1 L699.9,441.7 L701.3,440.3 L702.8,438.9 L704.2,437.5 L705.6,436.1 L707.1,434.7 L708.5,433.3 L710.0,431.9 L711.4,430.5 L712.8,429.1 L714.3,427.6 L715.7,426.2 L717.1,424.8 L718.6,423.4 L720.0,422.0 L721.4,420.6 L722.9,419.2 L724.3,417.8 L725.7,416.4 L727.2,415.0 L728.6,413.6 L730.0,412.2 L731.5,410.8 L732.9,409.4 L734.4,408.0 L735.8,406.7 L737.2,405.3 L738.7,403.9 L740.1,402.5 L741.6,401.1 L743.0,399.8 L744.5,398.4 L745.9,397.0 L747.4,395.7 L748.8,394.3 L750.3,393.0 L751.8,391.6 L753.2,390.2 L754.7,388.9 L756.1,387.6 L757.6,386.2 L759.1,384.9 L760.5,383.5 L762.0,382.2 L763.5,380.8 L765.0,379.5 L766.4,378.2 L767.9,376.8 L769.4,375.5 L770.9,374.2 L772.3,372.8 L773.8,371.5 L775.3,370.2 L776.8,368.9 L778.3,367.5 L779.7,366.2 L781.2,364.9 L782.7,363.5 L784.2,362.2 L785.7,360.9 L787.2,359.6 L788.7,358.2 L790.2,356.9 L791.7,355.6 L793.2,354.3 L794.7,352.9 L796.2,351.6 L797.7,350.3 L799.2,349.0 L800.7,347.6 L802.2,346.3 L803.7,345.0 L805.2,343.6 L806.7,342.3 L808.2,341.0 L809.7,339.6 L811.2,338.3 L812.7,336.9 L814.2,335.6 L815.7,334.3 L817.2,332.9 L818.7,331.6 L820.3,330.3 L821.8,328.9 L823.3,327.6 L824.8,326.3 L826.4,325.0 L827.9,323.7 L829.5,322.4 L831.0,321.1 L832.6,319.8 L834.2,318.6 L835.7,317.3 L837.3,316.1 L838.9,314.8 L840.5,313.6 L842.1,312.4 L843.7,311.2 L845.4,310.0 L847.0,308.9 L848.7,307.7 L850.3,306.6 L852.0,305.5 L853.7,304.5 L855.4,303.4 L857.1,302.4 L858.8,301.3 L860.6,300.4 L862.3,299.4 L864.1,298.5 L865.9,297.5 L867.6,296.7 L869.4,295.8 L871.2,295.0 L873.1,294.2 L874.9,293.4 L876.7,292.7 L878.6,292.0 L880.5,291.3 L882.3,290.7 L884.2,290.1 L886.1,289.5 L888.0,288.9 L890.0,288.4 L891.9,288.0 L893.8,287.5 L895.8,287.1 L897.7,286.7 L899.7,286.4 L901.6,286.1 L903.6,285.8 L905.6,285.6 L907.5,285.4 L909.5,285.2 L911.5,285.1 L913.5,284.9 L915.5,284.9 L917.5,284.8 L919.4,284.8 L921.4,284.8 L923.4,284.9 L925.4,285.0 L927.4,285.1 L929.4,285.3 L931.3,285.4 L933.3,285.7 L935.3,285.9 L937.2,286.2 L939.2,286.5 L941.2,286.9 L943.1,287.2 L945.0,287.7 L947.0,288.1 L948.9,288.6 L950.8,289.1 L952.7,289.6 L954.6,290.2 L956.5,290.8 L958.4,291.5 L960.3,292.1 L962.2,292.8 L964.0,293.5 L965.9,294.3 L967.7,295.0 L969.5,295.8 L971.4,296.7 L973.2,297.5 L975.0,298.4 L976.8,299.3 L978.6,300.2 L980.4,301.1 L982.2,302.1 L983.9,303.0 L985.7,304.0 L987.4,305.1 L989.2,306.1 L990.9,307.1 L992.6,308.2 L994.3,309.3 L996.0,310.4 L997.7,311.5 L999.4,312.7 L1001.0,313.8 L1002.7,315.0 L1004.3,316.2 L1006.0,317.4 L1007.6,318.6 L1009.2,319.8 L1010.8,321.0 L1012.4,322.3 L1014.0,323.5 L1015.6,324.8 L1017.1,326.0 L1018.7,327.3 L1020.2,328.6 L1021.8,329.9 L1023.3,331.2 L1024.8,332.5 L1026.3,333.8 L1027.8,335.2 L1029.3,336.5 L1030.7,337.9 L1032.2,339.2 L1033.6,340.6 L1035.1,342.0 L1036.5,343.4 L1037.9,344.8 L1039.3,346.2 L1040.7,347.6 L1042.1,349.0 L1043.5,350.4 L1044.9,351.9 L1046.3,353.3 L1047.6,354.8 L1049.0,356.2 L1050.3,357.7 L1051.6,359.2 L1053.0,360.7 L1054.3,362.2 L1055.6,363.7 L1056.9,365.2 L1058.2,366.7 L1059.5,368.2 L1060.7,369.7 L1062.0,371.3 L1063.3,372.8 L1064.5,374.4 L1065.7,375.9 L1067.0,377.5 L1068.2,379.1 L1069.4,380.6 L1070.6,382.2 L1071.8,383.8 L1073.0,385.4 L1074.2,387.0 L1075.4,388.6 L1076.6,390.2 L1077.8,391.8 L1078.9,393.4 L1080.1,395.1 L1081.2,396.7 L1082.4,398.3 L1083.5,400.0 L1084.7,401.6 L1085.8,403.3 L1086.9,404.9 L1088.0,406.6 L1089.1,408.3 L1090.2,409.9 L1091.3,411.6 L1092.4,413.3 L1093.5,415.0 L1094.6,416.7 L1095.6,418.4 L1096.7,420.1 L1097.8,421.8 L1098.8,423.5 L1099.9,425.2 L1100.9,426.9 L1101.9,428.6 L1103.0,430.3 L1104.0,432.0 L1105.1,433.8 L1106.1,435.5 L1107.1,437.2 L1108.1,438.9 L1109.2,440.7 L1110.2,442.4 L1111.2,444.1 L1112.2,445.9 L1113.2,447.6 L1114.2,449.3 L1115.2,451.1 L1116.2,452.8 L1117.3,454.5 L1118.3,456.3 L1119.3,458.0 L1120.3,459.8 L1121.3,461.5 L1122.3,463.2 L1123.3,465.0 L1124.3,466.7 L1125.4,468.4 L1126.4,470.2 L1127.4,471.9 L1128.4,473.6 L1129.5,475.4 L1130.5,477.1 L1131.5,478.8 L1132.5,480.5 L1133.6,482.2 L1134.6,483.9 L1135.7,485.7 L1136.7,487.4 L1137.8,489.1 L1138.9,490.8 L1139.9,492.5 L1141.0,494.2 L1142.1,495.8 L1143.2,497.5 L1144.2,499.2 L1145.3,500.9 L1146.4,502.6 L1147.6,504.2 L1148.7,505.9 L1149.8,507.5 L1150.9,509.2 L1152.1,510.8 L1153.2,512.5 L1154.4,514.1 L1155.6,515.7 L1156.7,517.3 L1157.9,518.9 L1159.1,520.5 L1160.3,522.1 L1161.5,523.7 L1162.7,525.3 L1164.0,526.9 L1165.2,528.5 L1166.5,530.0 L1167.7,531.6 L1169.0,533.2 L1170.2,534.7 L1171.5,536.2 L1172.8,537.8 L1174.1,539.3 L1175.4,540.8 L1176.7,542.3 L1178.0,543.8 L1179.3,545.3 L1180.7,546.8 L1182.0,548.3 L1183.3,549.8 L1184.7,551.3 L1186.1,552.7 L1187.4,554.2 L1188.8,555.6 L1190.2,557.1 L1191.6,558.5 L1193.0,559.9 L1194.4,561.4 L1195.8,562.8 L1197.2,564.2 L1198.6,565.6 L1200.1,567.0 L1201.5,568.4 L1203.0,569.7 L1204.4,571.1 L1205.9,572.5 L1207.3,573.8 L1208.8,575.2 L1210.3,576.5 L1211.8,577.8 L1213.3,579.2 L1214.8,580.5 L1216.3,581.8 L1217.8,583.1 L1219.3,584.4 L1220.9,585.7 L1222.4,586.9 L1223.9,588.2 L1225.5,589.5 L1227.0,590.7 L1228.6,592.0 L1230.2,593.2 L1231.7,594.4 L1233.3,595.7 L1234.9,596.9 L1236.5,598.1 L1238.1,599.3 L1239.7,600.5 L1241.3,601.7 L1242.9,602.8 L1244.5,604.0 L1246.2,605.2 L1247.8,606.3 L1249.4,607.4 L1251.1,608.6 L1252.7,609.7 L1254.4,610.8 L1256.0,611.9 L1257.7,613.0 L1259.4,614.1 L1261.1,615.2 L1262.7,616.3 L1264.4,617.3 L1266.1,618.4 L1267.8,619.4 L1269.5,620.5 L1271.2,621.5 L1272.9,622.5 L1274.7,623.5 L1276.4,624.5 L1278.1,625.5 L1279.8,626.5 L1281.6,627.5 L1283.3,628.4 L1285.1,629.4 L1286.8,630.4 L1288.6,631.3 L1290.4,632.2 L1292.1,633.1 L1293.9,634.1 L1295.7,635.0 L1297.4,635.9 L1299.2,636.7 L1301.0,637.6 L1302.8,638.5 L1304.6,639.3 L1306.4,640.2 L1308.2,641.0 L1310.0,641.8 L1311.9,642.7 L1313.7,643.5 L1315.5,644.3 L1317.3,645.1 L1319.2,645.8 L1321.0,646.6 L1322.8,647.4 L1324.7,648.1 L1326.5,648.9 L1328.4,649.6 L1330.2,650.3 L1332.1,651.0 L1334.0,651.7 L1335.8,652.4 L1337.7,653.1 L1339.6,653.8 L1341.4,654.5 L1343.3,655.1 L1345.2,655.7 L1347.1,656.4 L1349.0,657.0 L1350.9,657.6 L1352.8,658.2 L1354.7,658.8 L1356.6,659.4 L1358.5,660.0 L1360.4,660.6 L1362.3,661.2 L1364.2,661.7 L1366.1,662.3 L1368.0,662.8 L1370.0,663.3 L1371.9,663.9 L1373.8,664.4 L1375.8,664.9 L1377.7,665.4 L1379.6,665.9 L1381.6,666.4 L1383.5,666.9 L1385.4,667.4 L1387.4,667.8 L1389.3,668.3 L1391.3,668.7 L1393.2,669.2 L1395.2,669.6 L1397.1,670.1 L1399.1,670.5 L1401.1,670.9 L1403.0,671.3 L1405.0,671.8 L1407.0,672.2 L1408.9,672.6 L1410.9,673.0 L1412.9,673.4 L1414.8,673.7 L1416.8,674.1 L1418.8,674.5 L1420.8,674.9 L1422.7,675.2 L1424.7,675.6 L1426.7,676.0 L1428.7,676.3 L1430.7,676.7 L1432.6,677.0 L1434.6,677.3 L1436.6,677.7 L1438.6,678.0 L1440.6,678.3 L1442.6,678.7 L1444.6,679.0 L1446.6,679.3 L1448.5,679.6 L1450.5,679.9 L1452.5,680.2 L1454.5,680.5 L1456.5,680.8 L1458.5,681.1 L1460.5,681.4 L1462.5,681.7 L1464.5,682.0 L1466.5,682.3 L1468.5,682.6 L1470.5,682.9 L1472.5,683.2 L1474.5,683.5 L1476.5,683.7 L1478.5,684.0 L1480.5,684.3 L1482.5,684.6 L1484.5,684.8 L1486.5,685.1 L1488.5,685.4 L1490.5,685.7 L1492.4,685.9 L1494.4,686.2 L1496.4,686.5 L1498.4,686.7 L1500.4,687.0 L1502.4,687.3 L1504.4,687.5 L1506.4,687.8 L1508.4,688.1 L1510.4,688.3 L1512.4,688.6 L1514.4,688.8 L1516.4,689.1 L1518.4,689.4 L1520.3,689.6 L1522.3,689.9 L1524.3,690.1 L1526.3,690.4 L1528.3,690.7 L1530.3,690.9 L1532.3,691.2 L1534.3,691.4 L1536.2,691.7 L1538.2,691.9 L1540.2,692.2 L1542.2,692.5 L1544.2,692.7 L1546.2,693.0 L1548.2,693.2 L1550.2,693.5 L1552.1,693.7 L1554.1,694.0 L1556.1,694.2 L1558.1,694.5 L1560.1,694.7 L1562.1,694.9 L1564.0,695.2 L1566.0,695.4 L1568.0,695.7 L1570.0,695.9 L1572.0,696.2 L1574.0,696.4 L1575.9,696.6 L1577.9,696.9 L1579.9,697.1 L1581.9,697.4 L1583.9,697.6 L1585.9,697.8 L1587.8,698.1 L1589.8,698.3 L1591.8,698.5 L1593.8,698.8 L1595.8,699.0 L1597.7,699.2 L1599.7,699.5 L1601.7,699.7 L1603.7,699.9 L1605.7,700.2 L1607.7,700.4 L1609.6,700.6 L1611.6,700.8 L1613.6,701.1 L1615.6,701.3 L1617.6,701.5 L1619.5,701.7 L1621.5,702.0 L1623.5,702.2 L1625.5,702.4 L1627.5,702.6 L1629.4,702.9 L1631.4,703.1 L1633.4,703.3 L1635.4,703.5 L1637.4,703.7 L1639.4,703.9 L1641.3,704.2 L1643.3,704.4 L1645.3,704.6 L1647.3,704.8 L1649.3,705.0 L1651.2,705.2 L1653.2,705.4 L1655.2,705.6 L1657.2,705.8 L1659.2,706.0 L1661.2,706.2 L1663.1,706.5 L1665.1,706.7 L1667.1,706.9 L1669.1,707.1 L1671.1,707.3 L1673.1,707.5 L1675.0,707.7 L1677.0,707.9 L1679.0,708.1 L1681.0,708.3 L1683.0,708.4 L1685.0,708.6 L1686.9,708.8 L1688.9,709.0 L1690.9,709.2 L1692.9,709.4 L1694.9,709.6 L1696.9,709.8 L1698.9,710.0 L1700.9,710.2 L1702.8,710.4 L1704.8,710.5 L1706.8,710.7 L1708.8,710.9 L1710.8,711.1 L1712.8,711.3 L1714.8,711.5 L1716.7,711.6 L1718.7,711.8 L1720.7,712.0 L1722.7,712.2 L1724.7,712.4 L1726.7,712.5 L1728.7,712.7 L1730.7,712.9 L1732.7,713.1 L1734.7,713.2 L1736.6,713.4 L1738.6,713.6 L1740.6,713.7 L1742.6,713.9 L1744.6,714.1 L1746.6,714.3 L1748.6,714.4 L1750.6,714.6 L1752.6,714.8 L1754.6,714.9 L1756.5,715.1 L1758.5,715.3 L1760.5,715.4 L1762.5,715.6 L1764.5,715.7 L1766.5,715.9 L1768.5,716.1 L1770.5,716.2 L1772.5,716.4 L1774.5,716.5 L1776.5,716.7 L1778.5,716.9 L1780.5,717.0 L1782.5,717.2 L1784.4,717.3 L1786.4,717.5 L1788.4,717.6 L1790.4,717.8 L1792.4,717.9 L1794.4,718.1 L1796.4,718.2 L1798.4,718.4 L1800.4,718.5 L1802.4,718.7 L1804.4,718.8 L1806.4,719.0 L1808.4,719.1 L1810.4,719.3 L1812.4,719.4 L1814.4,719.6 L1816.4,719.7 L1818.4,719.8 L1820.4,720.0 L1822.4,720.1 L1824.3,720.3 L1826.3,720.4 L1828.3,720.6 L1830.3,720.7 L1832.3,720.8 L1834.3,721.0 L1836.3,721.1 L1838.3,721.2 L1840.3,721.4 L1842.3,721.5 L1844.3,721.7 L1846.3,721.8 L1848.3,721.9 L1850.3,722.1 L1852.3,722.2 L1854.3,722.3 L1856.3,722.5 L1858.3,722.6 L1860.3,722.7 L1862.3,722.9 L1864.3,723.0 L1866.3,723.1 L1868.3,723.2 L1870.3,723.4 L1872.3,723.5 L1874.3,723.6 L1876.3,723.8 L1878.3,723.9 L1880.3,724.0 L1882.3,724.1 L1884.3,724.3 L1886.3,724.4 L1888.3,724.5 L1890.3,724.6 L1892.3,724.8 L1894.3,724.9 L1896.3,725.0 L1898.3,725.1 L1900.3,725.2 L1902.3,725.4 L1904.3,725.5 L1906.3,725.6 L1908.3,725.7 L1910.3,725.8 L1912.3,726.0 L1914.3,726.1 L1916.3,726.2 L1918.3,726.3 L1920.3,726.4 L1922.3,726.6 L1924.3,726.7 L1926.3,726.8 L1928.3,726.9 L1930.3,727.0 L1932.3,727.1 L1934.3,727.2 L1936.3,727.4 L1938.3,727.5 L1940.3,727.6 L1942.3,727.7 L1944.3,727.8 L1946.3,727.9 L1948.3,728.0 L1950.3,728.2 L1952.3,728.3 L1954.3,728.4 L1956.3,728.5 L1958.3,728.6 L1960.3,728.7 L1962.3,728.8 L1964.3,728.9 L1966.3,729.0 L1968.3,729.1 L1970.3,729.3 L1972.3,729.4 L1974.3,729.5 L1976.3,729.6 L1978.3,729.7 L1980.3,729.8 L1982.3,729.9 L1984.3,730.0 L1986.3,730.1 L1988.3,730.2 L1990.3,730.3 L1992.3,730.4 L1994.3,730.5 L1996.3,730.6 L1998.3,730.7 L2000.3,730.8 L2002.3,731.0 L2004.3,731.1 L2006.3,731.2 L2008.3,731.3 L2010.3,731.4 L2012.3,731.5 L2014.3,731.6 L2016.3,731.7 L2018.3,731.8 L2020.3,731.9 L2022.3,732.0 L2024.3,732.1 L2026.3,732.2 L2028.3,732.3 L2030.3,732.4 L2032.3,732.5 L2034.3,732.6 L2036.3,732.7 L2038.3,732.8 L2040.3,732.9 L2042.3,733.0 L2044.3,733.1 L2046.3,733.2 L2048.3,733.3 L2050.3,733.4 L2052.3,733.5 L2054.3,733.6 L2056.3,733.7 L2058.3,733.8 L2060.3,733.9 L2062.3,734.0 L2064.3,734.1 L2066.3,734.2 L2068.3,734.3 L2070.3,734.4 L2072.3,734.5 L2074.3,734.6 L2076.3,734.7 L2078.3,734.8 L2080.3,734.9 L2082.3,735.0 L2084.3,735.1 L2086.3,735.2 L2088.3,735.3 L2090.3,735.4 L2092.3,735.5 L2094.3,735.6 L2096.3,735.7 L2098.3,735.8 L2100.3,735.9 L2102.3,736.0 L2104.3,736.1 L2106.3,736.2 L2108.3,736.3 L2110.3,736.4 L2112.3,736.5 L2114.3,736.5 L2116.3,736.6 L2118.3,736.7 L2120.3,736.8 L2122.3,736.9 L2124.3,737.0 L2126.3,737.1 L2128.3,737.2 L2130.3,737.3 L2132.3,737.4 L2134.3,737.5 L2136.3,737.6 L2138.3,737.7 L2140.3,737.8 L2142.3,737.9 L2144.3,738.0 L2146.3,738.1 L2148.3,738.2 L2150.3,738.3 L2152.3,738.4 L2154.3,738.5 L2156.3,738.6 L2158.3,738.7 L2160.2,738.8 L2162.2,738.9 L2164.2,739.0 L2166.2,739.1 L2168.2,739.2 L2170.2,739.3 L2172.2,739.4 L2174.2,739.5 L2176.2,739.6 L2178.2,739.7 L2180.2,739.8 L2182.2,739.9 L2184.2,740.0 L2186.2,740.1 L2188.2,740.2 L2190.2,740.3 L2192.2,740.4 L2194.2,740.5 L2196.2,740.6 L2198.2,740.7 L2200.1,740.8 L2202.1,740.9 L2204.1,741.0 L2206.1,741.1 L2208.1,741.2 L2210.1,741.3 L2212.1,741.4 L2214.1,741.5 L2216.1,741.7 L2218.1,741.8 L2220.1,741.9 L2222.1,742.0 L2224.1,742.1 L2226.1,742.2 L2228.0,742.3 L2230.0,742.4 L2232.0,742.5 L2234.0,742.6 L2236.0,742.7 L2238.0,742.8 L2240.0,742.9 L2242.0,743.0 L2244.0,743.1 L2246.0,743.2 L2248.0,743.3 L2249.9,743.5 L2251.9,743.6 L2253.9,743.7 L2255.9,743.8 L2257.9,743.9 L2259.9,744.0 L2261.9,744.1 L2263.9,744.2 L2265.9,744.3 L2267.8,744.4" stroke="#E8C643" stroke-width="7"/>
<path d="M217.0,752.2 L219.0,752.2 L221.0,752.2 L223.0,752.3 L225.0,752.3 L227.0,752.3 L229.0,752.3 L231.0,752.3 L233.0,752.3 L235.0,752.3 L236.9,752.3 L238.9,752.3 L240.9,752.3 L242.9,752.3 L244.9,752.3 L246.9,752.2 L248.9,752.2 L250.9,752.2 L252.9,752.1 L254.9,752.1 L256.9,752.0 L258.9,752.0 L260.9,751.9 L262.9,751.9 L264.9,751.8 L266.9,751.7 L268.9,751.7 L270.9,751.6 L272.9,751.5 L274.9,751.4 L276.9,751.4 L278.9,751.3 L280.9,751.2 L282.9,751.1 L284.9,751.0 L286.9,750.9 L288.9,750.8 L290.9,750.7 L292.9,750.6 L294.9,750.5 L296.9,750.4 L298.9,750.3 L300.9,750.2 L302.9,750.1 L304.9,750.0 L306.9,749.9 L308.9,749.8 L310.9,749.7 L312.9,749.6 L314.9,749.5 L316.9,749.4 L318.9,749.3 L320.9,749.2 L322.9,749.1 L325.0,749.0 L327.0,748.9 L329.0,748.7 L331.0,748.6 L333.0,748.5 L335.0,748.4 L337.0,748.3 L339.0,748.2 L341.0,748.1 L343.0,748.0 L345.0,747.9 L347.0,747.8 L349.0,747.7 L351.0,747.6 L353.0,747.5 L355.0,747.4 L357.0,747.3 L359.0,747.3 L361.0,747.2 L363.0,747.1 L365.0,747.0 L367.0,746.9 L369.0,746.9 L371.0,746.8 L373.0,746.7 L375.0,746.6 L377.0,746.6 L379.0,746.5 L381.0,746.5 L383.0,746.4 L385.0,746.3 L387.0,746.3 L389.0,746.3 L391.0,746.2 L393.0,746.2 L395.0,746.1 L397.0,746.1 L399.0,746.1 L401.0,746.1 L403.0,746.1 L405.0,746.0 L407.0,746.0 L409.0,746.0 L411.0,746.0 L413.0,746.1 L415.0,746.1 L417.0,746.1 L419.0,746.1 L421.0,746.1 L423.0,746.2 L425.0,746.2 L427.0,746.3 L429.0,746.3 L431.0,746.4 L433.0,746.5 L435.0,746.5 L437.0,746.6 L439.0,746.7 L440.9,746.8 L442.9,746.9 L444.9,747.0 L446.9,747.1 L448.9,747.2 L450.9,747.4 L452.9,747.5 L454.9,747.6 L456.9,747.8 L458.8,748.0 L460.8,748.1 L462.8,748.3 L464.8,748.5 L466.8,748.7 L468.8,748.9 L470.8,749.1 L472.7,749.3 L474.7,749.5 L476.7,749.7 L478.7,750.0 L480.7,750.2 L482.6,750.5 L484.6,750.8 L486.6,751.0 L488.6,751.3 L490.6,751.6 L492.5,751.9 L494.5,752.2 L496.5,752.6 L498.5,752.9 L500.4,753.3 L502.4,753.6 L504.4,754.0 L506.3,754.3 L508.3,754.7 L510.3,755.1 L512.3,755.4 L514.2,755.8 L516.2,756.2 L518.2,756.6 L520.1,757.0 L522.1,757.4 L524.1,757.8 L526.0,758.2 L528.0,758.6 L530.0,759.0 L532.0,759.4 L533.9,759.8 L535.9,760.2 L537.9,760.6 L539.8,761.0 L541.8,761.4 L543.8,761.7 L545.7,762.1 L547.7,762.5 L549.7,762.9 L551.6,763.2 L553.6,763.6 L555.6,764.0 L557.5,764.3 L559.5,764.6 L561.5,765.0 L563.5,765.3 L565.4,765.6 L567.4,765.9 L569.4,766.2 L571.3,766.5 L573.3,766.8 L575.3,767.0 L577.3,767.3 L579.2,767.5 L581.2,767.7 L583.2,767.9 L585.2,768.1 L587.2,768.3 L589.1,768.5 L591.1,768.6 L593.1,768.7 L595.1,768.8 L597.1,768.9 L599.1,769.0 L601.0,769.1 L603.0,769.1 L605.0,769.2 L607.0,769.2 L609.0,769.2 L611.0,769.3 L613.0,769.3 L615.0,769.2 L616.9,769.2 L618.9,769.2 L620.9,769.2 L622.9,769.1 L624.9,769.1 L626.9,769.0 L628.9,768.9 L630.9,768.8 L632.9,768.8 L634.9,768.7 L636.9,768.6 L638.9,768.5 L640.9,768.4 L642.9,768.3 L644.9,768.2 L646.9,768.1 L648.9,768.0 L650.9,767.8 L652.9,767.7 L654.9,767.6 L656.9,767.5 L658.9,767.4 L660.9,767.3 L662.9,767.1 L664.9,767.0 L666.9,766.9 L668.9,766.8 L670.9,766.7 L672.9,766.5 L674.9,766.4 L676.9,766.3 L678.9,766.2 L680.9,766.0 L683.0,765.9 L685.0,765.8 L687.0,765.6 L689.0,765.5 L691.0,765.4 L693.0,765.2 L695.0,765.1 L697.0,764.9 L699.0,764.8 L701.0,764.6 L703.0,764.5 L705.0,764.3 L707.0,764.1 L709.0,764.0 L711.0,763.8 L713.0,763.6 L715.0,763.5 L717.0,763.3 L719.0,763.1 L721.0,762.9 L723.0,762.7 L725.0,762.5 L727.0,762.3 L729.0,762.1 L731.0,761.9 L733.0,761.7 L735.0,761.5 L737.0,761.3 L739.0,761.0 L741.0,760.8 L743.0,760.6 L744.9,760.3 L746.9,760.1 L748.9,759.8 L750.9,759.6 L752.9,759.3 L754.9,759.0 L756.9,758.7 L758.8,758.5 L760.8,758.2 L762.8,757.9 L764.8,757.6 L766.7,757.3 L768.7,757.0 L770.7,756.6 L772.7,756.3 L774.6,756.0 L776.6,755.6 L778.6,755.3 L780.5,754.9 L782.5,754.6 L784.4,754.2 L786.4,753.8 L788.4,753.5 L790.3,753.1 L792.3,752.7 L794.2,752.3 L796.2,751.9 L798.1,751.4 L800.1,751.0 L802.0,750.6 L803.9,750.1 L805.9,749.7 L807.8,749.2 L809.7,748.7 L811.7,748.2 L813.6,747.8 L815.5,747.3 L817.5,746.7 L819.4,746.2 L821.3,745.7 L823.2,745.2 L825.1,744.6 L827.0,744.1 L829.0,743.5 L830.9,742.9 L832.8,742.3 L834.7,741.7 L836.6,741.1 L838.5,740.5 L840.4,739.9 L842.2,739.3 L844.1,738.6 L846.0,738.0 L847.9,737.3 L849.8,736.7 L851.7,736.0 L853.5,735.3 L855.4,734.6 L857.3,733.9 L859.2,733.2 L861.0,732.5 L862.9,731.8 L864.7,731.1 L866.6,730.3 L868.4,729.6 L870.3,728.8 L872.1,728.0 L874.0,727.3 L875.8,726.5 L877.7,725.7 L879.5,724.9 L881.3,724.1 L883.2,723.3 L885.0,722.5 L886.8,721.6 L888.6,720.8 L890.5,720.0 L892.3,719.1 L894.1,718.3 L895.9,717.4 L897.7,716.5 L899.5,715.6 L901.3,714.8 L903.1,713.9 L904.9,713.0 L906.7,712.1 L908.5,711.1 L910.2,710.2 L912.0,709.3 L913.8,708.4 L915.6,707.4 L917.3,706.5 L919.1,705.5 L920.9,704.6 L922.6,703.6 L924.4,702.6 L926.1,701.6 L927.9,700.7 L929.6,699.7 L931.4,698.7 L933.1,697.7 L934.9,696.7 L936.6,695.7 L938.3,694.6 L940.1,693.6 L941.8,692.6 L943.5,691.5 L945.2,690.5 L946.9,689.4 L948.6,688.4 L950.3,687.3 L952.0,686.3 L953.7,685.2 L955.4,684.1 L957.1,683.0 L958.8,681.9 L960.5,680.8 L962.1,679.7 L963.8,678.6 L965.4,677.5 L967.1,676.3 L968.7,675.2 L970.4,674.0 L972.0,672.9 L973.6,671.7 L975.3,670.5 L976.9,669.4 L978.5,668.2 L980.1,667.0 L981.7,665.8 L983.2,664.6 L984.8,663.3 L986.4,662.1 L987.9,660.9 L989.5,659.6 L991.0,658.3 L992.6,657.1 L994.1,655.8 L995.6,654.5 L997.1,653.2 L998.6,651.9 L1000.1,650.6 L1001.6,649.2 L1003.1,647.9 L1004.5,646.5 L1006.0,645.2 L1007.4,643.8 L1008.9,642.4 L1010.3,641.0 L1011.7,639.6 L1013.1,638.2 L1014.5,636.8 L1015.9,635.4 L1017.3,633.9 L1018.7,632.5 L1020.1,631.0 L1021.5,629.6 L1022.8,628.1 L1024.2,626.7 L1025.5,625.2 L1026.9,623.7 L1028.2,622.2 L1029.6,620.8 L1030.9,619.3 L1032.3,617.8 L1033.6,616.3 L1034.9,614.8 L1036.2,613.3 L1037.6,611.8 L1038.9,610.3 L1040.2,608.7 L1041.5,607.2 L1042.8,605.7 L1044.1,604.2 L1045.5,602.7 L1046.8,601.2 L1048.1,599.6 L1049.4,598.1 L1050.7,596.6 L1052.0,595.1 L1053.3,593.6 L1054.6,592.1 L1055.9,590.5 L1057.3,589.0 L1058.6,587.5 L1059.9,586.0 L1061.2,584.5 L1062.5,583.0 L1063.9,581.5 L1065.2,580.0 L1066.5,578.5 L1067.8,577.0 L1069.2,575.5 L1070.5,574.0 L1071.8,572.5 L1073.2,571.0 L1074.5,569.6 L1075.9,568.1 L1077.2,566.6 L1078.6,565.1 L1079.9,563.6 L1081.3,562.2 L1082.6,560.7 L1084.0,559.3 L1085.3,557.8 L1086.7,556.3 L1088.1,554.9 L1089.4,553.4 L1090.8,552.0 L1092.2,550.5 L1093.6,549.1 L1094.9,547.7 L1096.3,546.2 L1097.7,544.8 L1099.1,543.4 L1100.5,542.0 L1101.9,540.5 L1103.3,539.1 L1104.7,537.7 L1106.2,536.3 L1107.6,534.9 L1109.0,533.5 L1110.4,532.1 L1111.9,530.7 L1113.3,529.4 L1114.7,528.0 L1116.2,526.6 L1117.6,525.2 L1119.1,523.9 L1120.5,522.5 L1122.0,521.2 L1123.5,519.8 L1124.9,518.5 L1126.4,517.1 L1127.9,515.8 L1129.4,514.5 L1130.9,513.2 L1132.4,511.8 L1133.9,510.5 L1135.4,509.2 L1136.9,507.9 L1138.4,506.6 L1140.0,505.3 L1141.5,504.1 L1143.1,502.8 L1144.6,501.5 L1146.1,500.2 L1147.7,499.0 L1149.3,497.7 L1150.8,496.5 L1152.4,495.2 L1153.9,494.0 L1155.5,492.7 L1157.1,491.4 L1158.6,490.2 L1160.2,489.0 L1161.8,487.7 L1163.3,486.5 L1164.9,485.2 L1166.5,483.9 L1168.0,482.7 L1169.6,481.4 L1171.1,480.2 L1172.7,478.9 L1174.2,477.6 L1175.8,476.4 L1177.3,475.1 L1178.8,473.8 L1180.4,472.5 L1181.9,471.2 L1183.4,469.9 L1184.9,468.6 L1186.4,467.3 L1187.9,466.0 L1189.3,464.7 L1190.8,463.3 L1192.3,462.0 L1193.7,460.6 L1195.2,459.3 L1196.6,457.9 L1198.0,456.5 L1199.4,455.1 L1200.8,453.7 L1202.2,452.3 L1203.5,450.8 L1204.9,449.4 L1206.2,447.9 L1207.6,446.5 L1208.9,445.0 L1210.1,443.5 L1211.4,441.9 L1212.7,440.4 L1213.9,438.8 L1215.1,437.3 L1216.3,435.7 L1217.5,434.1 L1218.7,432.5 L1219.8,430.8 L1221.0,429.2 L1222.1,427.5 L1223.2,425.8 L1224.3,424.1 L1225.3,422.4 L1226.4,420.7 L1227.4,418.9 L1228.4,417.2 L1229.4,415.4 L1230.4,413.6 L1231.4,411.8 L1232.4,410.0 L1233.3,408.2 L1234.3,406.4 L1235.2,404.6 L1236.1,402.8 L1237.1,401.0 L1238.0,399.2 L1238.9,397.3 L1239.8,395.5 L1240.7,393.7 L1241.6,391.8 L1242.5,390.0 L1243.3,388.1 L1244.2,386.3 L1245.1,384.5 L1245.9,382.6 L1246.8,380.8 L1247.7,379.0 L1248.6,377.2 L1249.4,375.4 L1250.3,373.5 L1251.2,371.7 L1252.0,370.0 L1252.9,368.2 L1253.8,366.4 L1254.6,364.6 L1255.5,362.9 L1256.4,361.1 L1257.3,359.4 L1258.2,357.6 L1259.1,355.9 L1260.0,354.2 L1260.9,352.5 L1261.8,350.7 L1262.7,349.0 L1263.7,347.3 L1264.6,345.6 L1265.5,343.9 L1266.5,342.2 L1267.4,340.5 L1268.4,338.8 L1269.3,337.1 L1270.3,335.4 L1271.3,333.6 L1272.3,331.9 L1273.3,330.2 L1274.3,328.5 L1275.3,326.8 L1276.3,325.0 L1277.3,323.3 L1278.4,321.5 L1279.4,319.8 L1280.5,318.0 L1281.5,316.3 L1282.6,314.5 L1283.7,312.7 L1284.8,310.9 L1286.0,309.2 L1287.1,307.4 L1288.3,305.7 L1289.5,304.1 L1290.8,302.5 L1292.1,300.9 L1293.5,299.4 L1294.9,298.0 L1296.4,296.7 L1298.0,295.5 L1299.6,294.3 L1301.3,293.3 L1303.1,292.4 L1304.9,291.7 L1306.9,291.0 L1308.9,290.5 L1311.0,290.2 L1313.1,290.0 L1315.2,290.0 L1317.1,290.2 L1319.0,290.5 L1320.9,291.0 L1322.6,291.6 L1324.3,292.4 L1325.9,293.2 L1327.5,294.2 L1329.1,295.3 L1330.5,296.5 L1332.0,297.8 L1333.3,299.2 L1334.7,300.6 L1336.0,302.1 L1337.3,303.7 L1338.5,305.3 L1339.7,306.9 L1340.9,308.6 L1342.1,310.3 L1343.2,312.0 L1344.4,313.7 L1345.5,315.4 L1346.6,317.1 L1347.7,318.8 L1348.7,320.6 L1349.8,322.3 L1350.8,324.0 L1351.9,325.8 L1352.9,327.5 L1353.9,329.3 L1354.9,331.0 L1355.8,332.8 L1356.8,334.5 L1357.8,336.3 L1358.7,338.1 L1359.6,339.8 L1360.5,341.6 L1361.4,343.4 L1362.3,345.2 L1363.2,347.0 L1364.1,348.8 L1364.9,350.6 L1365.8,352.4 L1366.6,354.2 L1367.5,356.0 L1368.3,357.8 L1369.1,359.6 L1369.9,361.4 L1370.7,363.3 L1371.5,365.1 L1372.3,366.9 L1373.1,368.7 L1373.8,370.6 L1374.6,372.4 L1375.4,374.3 L1376.1,376.1 L1376.9,377.9 L1377.6,379.8 L1378.3,381.6 L1379.1,383.5 L1379.8,385.3 L1380.5,387.2 L1381.2,389.1 L1381.9,390.9 L1382.7,392.8 L1383.4,394.6 L1384.1,396.5 L1384.8,398.4 L1385.5,400.2 L1386.2,402.1 L1386.9,404.0 L1387.6,405.9 L1388.3,407.7 L1389.0,409.6 L1389.7,411.5 L1390.3,413.4 L1391.0,415.2 L1391.7,417.1 L1392.4,419.0 L1393.1,420.9 L1393.8,422.7 L1394.5,424.6 L1395.2,426.5 L1395.9,428.4 L1396.6,430.3 L1397.3,432.1 L1398.0,434.0 L1398.7,435.9 L1399.4,437.8 L1400.1,439.7 L1400.8,441.6 L1401.5,443.4 L1402.2,445.3 L1402.9,447.2 L1403.6,449.1 L1404.3,451.0 L1405.0,452.8 L1405.7,454.7 L1406.5,456.6 L1407.2,458.5 L1407.9,460.3 L1408.6,462.2 L1409.3,464.1 L1410.1,466.0 L1410.8,467.9 L1411.5,469.7 L1412.3,471.6 L1413.0,473.5 L1413.7,475.3 L1414.5,477.2 L1415.2,479.1 L1416.0,480.9 L1416.7,482.8 L1417.5,484.7 L1418.2,486.5 L1419.0,488.4 L1419.7,490.2 L1420.5,492.1 L1421.3,494.0 L1422.0,495.8 L1422.8,497.7 L1423.6,499.5 L1424.4,501.3 L1425.2,503.2 L1426.0,505.0 L1426.8,506.9 L1427.6,508.7 L1428.4,510.5 L1429.2,512.4 L1430.0,514.2 L1430.8,516.0 L1431.6,517.9 L1432.5,519.7 L1433.3,521.5 L1434.1,523.3 L1435.0,525.1 L1435.8,526.9 L1436.7,528.7 L1437.5,530.6 L1438.4,532.4 L1439.3,534.2 L1440.1,535.9 L1441.0,537.7 L1441.9,539.5 L1442.8,541.3 L1443.7,543.1 L1444.6,544.9 L1445.5,546.6 L1446.4,548.4 L1447.4,550.2 L1448.3,551.9 L1449.2,553.7 L1450.2,555.4 L1451.1,557.2 L1452.1,558.9 L1453.0,560.7 L1454.0,562.4 L1455.0,564.2 L1456.0,565.9 L1456.9,567.6 L1457.9,569.3 L1458.9,571.1 L1459.9,572.8 L1461.0,574.5 L1462.0,576.2 L1463.0,577.9 L1464.0,579.6 L1465.1,581.3 L1466.1,583.0 L1467.2,584.7 L1468.2,586.3 L1469.3,588.0 L1470.4,589.7 L1471.4,591.4 L1472.5,593.0 L1473.6,594.7 L1474.7,596.4 L1475.8,598.0 L1476.9,599.7 L1478.0,601.3 L1479.2,602.9 L1480.3,604.6 L1481.4,606.2 L1482.6,607.8 L1483.7,609.5 L1484.9,611.1 L1486.0,612.7 L1487.2,614.3 L1488.4,615.9 L1489.6,617.5 L1490.7,619.1 L1491.9,620.7 L1493.1,622.3 L1494.3,623.9 L1495.6,625.5 L1496.8,627.1 L1498.0,628.6 L1499.2,630.2 L1500.5,631.8 L1501.7,633.3 L1503.0,634.9 L1504.2,636.5 L1505.5,638.0 L1506.8,639.5 L1508.0,641.1 L1509.3,642.6 L1510.6,644.2 L1511.9,645.7 L1513.2,647.2 L1514.5,648.7 L1515.8,650.2 L1517.2,651.8 L1518.5,653.3 L1519.8,654.8 L1521.2,656.3 L1522.5,657.7 L1523.9,659.2 L1525.2,660.7 L1526.6,662.2 L1528.0,663.7 L1529.3,665.1 L1530.7,666.6 L1532.1,668.1 L1533.5,669.5 L1534.9,670.9 L1536.4,672.4 L1537.8,673.8 L1539.2,675.2 L1540.6,676.6 L1542.1,678.1 L1543.5,679.5 L1545.0,680.8 L1546.5,682.2 L1547.9,683.6 L1549.4,685.0 L1550.9,686.3 L1552.4,687.7 L1553.9,689.0 L1555.4,690.3 L1556.9,691.7 L1558.4,693.0 L1560.0,694.3 L1561.5,695.6 L1563.0,696.9 L1564.6,698.1 L1566.2,699.4 L1567.7,700.6 L1569.3,701.9 L1570.9,703.1 L1572.5,704.3 L1574.1,705.5 L1575.7,706.7 L1577.3,707.9 L1578.9,709.0 L1580.5,710.2 L1582.2,711.3 L1583.8,712.5 L1585.5,713.6 L1587.1,714.7 L1588.8,715.8 L1590.5,716.8 L1592.2,717.9 L1593.9,718.9 L1595.6,720.0 L1597.3,721.0 L1599.0,722.0 L1600.7,723.0 L1602.5,723.9 L1604.2,724.9 L1606.0,725.8 L1607.7,726.8 L1609.5,727.7 L1611.3,728.6 L1613.0,729.5 L1614.8,730.3 L1616.6,731.2 L1618.4,732.0 L1620.2,732.9 L1622.0,733.7 L1623.9,734.5 L1625.7,735.3 L1627.5,736.1 L1629.4,736.8 L1631.2,737.6 L1633.1,738.4 L1634.9,739.1 L1636.8,739.8 L1638.6,740.5 L1640.5,741.2 L1642.4,741.9 L1644.3,742.6 L1646.2,743.3 L1648.0,743.9 L1649.9,744.6 L1651.8,745.2 L1653.7,745.8 L1655.6,746.5 L1657.5,747.1 L1659.5,747.7 L1661.4,748.3 L1663.3,748.8 L1665.2,749.4 L1667.1,750.0 L1669.0,750.5 L1671.0,751.1 L1672.9,751.6 L1674.8,752.2 L1676.8,752.7 L1678.7,753.2 L1680.6,753.7 L1682.6,754.2 L1684.5,754.7 L1686.5,755.2 L1688.4,755.7 L1690.3,756.2 L1692.3,756.6 L1694.2,757.1 L1696.2,757.5 L1698.1,758.0 L1700.1,758.4 L1702.0,758.9 L1704.0,759.3 L1705.9,759.7 L1707.9,760.1 L1709.9,760.5 L1711.8,760.9 L1713.8,761.3 L1715.7,761.7 L1717.7,762.1 L1719.7,762.5 L1721.6,762.9 L1723.6,763.3 L1725.6,763.6 L1727.5,764.0 L1729.5,764.3 L1731.5,764.7 L1733.4,765.0 L1735.4,765.4 L1737.4,765.7 L1739.3,766.0 L1741.3,766.4 L1743.3,766.7 L1745.3,767.0 L1747.2,767.3 L1749.2,767.6 L1751.2,767.9 L1753.2,768.2 L1755.2,768.5 L1757.1,768.8 L1759.1,769.1 L1761.1,769.3 L1763.1,769.6 L1765.1,769.9 L1767.1,770.2 L1769.0,770.4 L1771.0,770.7 L1773.0,770.9 L1775.0,771.2 L1777.0,771.4 L1779.0,771.7 L1781.0,771.9 L1783.0,772.2 L1784.9,772.4 L1786.9,772.6 L1788.9,772.9 L1790.9,773.1 L1792.9,773.3 L1794.9,773.5 L1796.9,773.7 L1798.9,774.0 L1800.9,774.2 L1802.9,774.4 L1804.9,774.6 L1806.8,774.8 L1808.8,775.0 L1810.8,775.2 L1812.8,775.4 L1814.8,775.6 L1816.8,775.8 L1818.8,776.0 L1820.8,776.2 L1822.8,776.3 L1824.8,776.5 L1826.8,776.7 L1828.8,776.9 L1830.8,777.1 L1832.8,777.3 L1834.8,777.4 L1836.8,777.6 L1838.8,777.8 L1840.8,778.0 L1842.8,778.1 L1844.7,778.3 L1846.7,778.5 L1848.7,778.7 L1850.7,778.8 L1852.7,779.0 L1854.7,779.2 L1856.7,779.3 L1858.7,779.5 L1860.7,779.7 L1862.7,779.8 L1864.7,780.0 L1866.7,780.2 L1868.7,780.3 L1870.7,780.5 L1872.7,780.7 L1874.6,780.8 L1876.6,781.0 L1878.6,781.1 L1880.6,781.3 L1882.6,781.5 L1884.6,781.6 L1886.6,781.8 L1888.6,781.9 L1890.6,782.1 L1892.6,782.3 L1894.6,782.4 L1896.6,782.6 L1898.5,782.7 L1900.5,782.9 L1902.5,783.0 L1904.5,783.2 L1906.5,783.3 L1908.5,783.5 L1910.5,783.6 L1912.5,783.8 L1914.5,783.9 L1916.5,784.1 L1918.5,784.2 L1920.5,784.4 L1922.4,784.5 L1924.4,784.7 L1926.4,784.8 L1928.4,785.0 L1930.4,785.1 L1932.4,785.3 L1934.4,785.4 L1936.4,785.6 L1938.4,785.7 L1940.4,785.9 L1942.4,786.0 L1944.4,786.2 L1946.4,786.3 L1948.3,786.4 L1950.3,786.6 L1952.3,786.7 L1954.3,786.9 L1956.3,787.0 L1958.3,787.2 L1960.3,787.3 L1962.3,787.4 L1964.3,787.6 L1966.3,787.7 L1968.3,787.8 L1970.3,788.0 L1972.3,788.1 L1974.3,788.3 L1976.3,788.4 L1978.3,788.5 L1980.3,788.7 L1982.2,788.8 L1984.2,788.9 L1986.2,789.1 L1988.2,789.2 L1990.2,789.3 L1992.2,789.5 L1994.2,789.6 L1996.2,789.7 L1998.2,789.9 L2000.2,790.0 L2002.2,790.1 L2004.2,790.2 L2006.2,790.4 L2008.2,790.5 L2010.2,790.6 L2012.2,790.8 L2014.2,790.9 L2016.2,791.0 L2018.2,791.1 L2020.2,791.3 L2022.2,791.4 L2024.2,791.5 L2026.2,791.6 L2028.2,791.7 L2030.1,791.9 L2032.1,792.0 L2034.1,792.1 L2036.1,792.2 L2038.1,792.3 L2040.1,792.5 L2042.1,792.6 L2044.1,792.7 L2046.1,792.8 L2048.1,792.9 L2050.1,793.0 L2052.1,793.2 L2054.1,793.3 L2056.1,793.4 L2058.1,793.5 L2060.1,793.6 L2062.1,793.7 L2064.1,793.8 L2066.1,793.9 L2068.1,794.1 L2070.1,794.2 L2072.1,794.3 L2074.1,794.4 L2076.1,794.5 L2078.1,794.6 L2080.1,794.7 L2082.1,794.8 L2084.1,794.9 L2086.1,795.0 L2088.1,795.1 L2090.1,795.2 L2092.1,795.3 L2094.1,795.4 L2096.1,795.5 L2098.1,795.6 L2100.1,795.7 L2102.1,795.8 L2104.1,795.9 L2106.1,796.0 L2108.1,796.1 L2110.1,796.2 L2112.1,796.3 L2114.1,796.4 L2116.1,796.5 L2118.1,796.6 L2120.1,796.7 L2122.1,796.7 L2124.1,796.8 L2126.1,796.9 L2128.1,797.0 L2130.1,797.1 L2132.1,797.2 L2134.1,797.3 L2136.1,797.4 L2138.1,797.4 L2140.1,797.5 L2142.1,797.6 L2144.1,797.7 L2146.1,797.8 L2148.1,797.9 L2150.1,797.9 L2152.1,798.0 L2154.1,798.1 L2156.1,798.2 L2158.1,798.2 L2160.1,798.3 L2162.1,798.4 L2164.1,798.5 L2166.0,798.6 L2168.0,798.6 L2170.0,798.7 L2172.0,798.8 L2174.0,798.8 L2176.0,798.9 L2178.0,799.0 L2180.0,799.0 L2182.0,799.1 L2184.0,799.2 L2186.0,799.2 L2188.0,799.3 L2190.0,799.4 L2192.0,799.4 L2194.0,799.5 L2196.0,799.6 L2198.0,799.6 L2200.0,799.7 L2202.0,799.7 L2204.0,799.8 L2206.0,799.9 L2208.0,799.9 L2210.0,800.0 L2212.0,800.0 L2214.0,800.1 L2216.0,800.1 L2218.0,800.2 L2220.0,800.2 L2222.0,800.3 L2224.0,800.3 L2226.0,800.4 L2228.0,800.4 L2230.0,800.5 L2232.0,800.5 L2234.0,800.6 L2236.0,800.6 L2238.0,800.7 L2240.0,800.7 L2242.0,800.7 L2244.0,800.8 L2246.0,800.8 L2248.0,800.9 L2250.0,800.9 L2252.0,800.9 L2254.0,801.0 L2256.0,801.0 L2258.0,801.0 L2260.0,801.1 L2262.0,801.1 L2264.0,801.1 L2266.0,801.2 L2268.0,801.2" stroke="#D0009F" stroke-width="7"/>
</g>
<line x1="917.5" y1="144.9" x2="917.5" y2="301.7" stroke="#000" stroke-width="7" stroke-dasharray="26 17.6"/>
<line x1="1082.5" y1="144.9" x2="1082.5" y2="301.7" stroke="#000" stroke-width="7" stroke-dasharray="26 17.6"/>
<line x1="1314.0" y1="144.9" x2="1314.0" y2="301.7" stroke="#000" stroke-width="7" stroke-dasharray="26 17.6"/>
<g stroke="#000" stroke-width="4" fill="none">
<rect x="217" y="40" width="2051" height="856"/>
<line x1="204" y1="896.0" x2="217" y2="896.0"/>
<line x1="204" y1="724.8" x2="217" y2="724.8"/>
<line x1="204" y1="553.6" x2="217" y2="553.6"/>
<line x1="204" y1="382.4" x2="217" y2="382.4"/>
<line x1="204" y1="211.2" x2="217" y2="211.2"/>
<line x1="204" y1="40.0" x2="217" y2="40.0"/>
<line x1="217.0" y1="896" x2="217.0" y2="909"/>
<line x1="510.0" y1="896" x2="510.0" y2="909"/>
<line x1="803.0" y1="896" x2="803.0" y2="909"/>
<line x1="1096.0" y1="896" x2="1096.0" y2="909"/>
<line x1="1389.0" y1="896" x2="1389.0" y2="909"/>
<line x1="1682.0" y1="896" x2="1682.0" y2="909"/>
<line x1="1975.0" y1="896" x2="1975.0" y2="909"/>
<line x1="2268.0" y1="896" x2="2268.0" y2="909"/>
</g>
<g font-family="Liberation Sans, Arial, sans-serif" font-size="46" fill="#000">
<text transform="matrix(1,0,0,1.060,0,-3.12)" x="156.8" y="52.0">1</text>
<text transform="matrix(1,0,0,1.060,0,-13.31)" x="122.5" y="221.8">0.8</text>
<text transform="matrix(1,0,0,1.060,0,-23.63)" x="122.5" y="393.9">0.6</text>
<text transform="matrix(1,0,0,1.060,0,-33.89)" x="122.5" y="564.9">0.4</text>
<text transform="matrix(1,0,0,1.060,0,-44.09)" x="122.5" y="734.9">0.2</text>
<text transform="matrix(1,0,0,1.060,0,-54.41)" x="156.6" y="906.8">0</text>
<text transform="matrix(1,0,0,1.060,0,-57.55)" x="220.0" y="959.2" text-anchor="middle">350</text>
<text transform="matrix(1,0,0,1.060,0,-57.55)" x="513.0" y="959.2" text-anchor="middle">400</text>
<text transform="matrix(1,0,0,1.060,0,-57.55)" x="806.0" y="959.2" text-anchor="middle">450</text>
<text transform="matrix(1,0,0,1.060,0,-57.55)" x="1099.0" y="959.2" text-anchor="middle">500</text>
<text transform="matrix(1,0,0,1.060,0,-57.55)" x="1392.0" y="959.2" text-anchor="middle">550</text>
<text transform="matrix(1,0,0,1.060,0,-57.55)" x="1685.0" y="959.2" text-anchor="middle">600</text>
<text transform="matrix(1,0,0,1.060,0,-57.55)" x="1978.0" y="959.2" text-anchor="middle">650</text>
<text transform="matrix(1,0,0,1.060,0,-57.55)" x="2271.0" y="959.2" text-anchor="middle">700</text>
<text x="1065.5" y="1022.3">Wavelenght (nm)</text>
<text transform="translate(52,461.8) rotate(-90)" text-anchor="middle">Absorbance</text>
<line x1="252.7" y1="95.0" x2="333" y2="95.0" stroke="#D0009F" stroke-width="8" stroke-linecap="round"/>
<line x1="252.7" y1="149.4" x2="333" y2="149.4" stroke="#ECA0DF" stroke-width="7" stroke-linecap="round"/>
<line x1="252.7" y1="204.5" x2="333" y2="204.5" stroke="#E8C643" stroke-width="7" stroke-linecap="round"/>
<text transform="matrix(1,0,0,1.030,0,-3.18)" x="340.7" y="106.1">pH = 2</text>
<text transform="matrix(1,0,0,1.030,0,-4.81)" x="340.7" y="160.3">pH = 7</text>
<text transform="matrix(1,0,0,1.030,0,-6.45)" x="340.7" y="214.9">pH = 13</text>
</g>
<g font-family="Liberation Serif, Times New Roman, serif" font-size="42" fill="#000" text-anchor="middle">
<text x="921" y="126">469</text>
<text x="1087" y="126.3">500</text>
<text x="1317.5" y="126.3">537</text>
</g>
</svg>
</body></html>
